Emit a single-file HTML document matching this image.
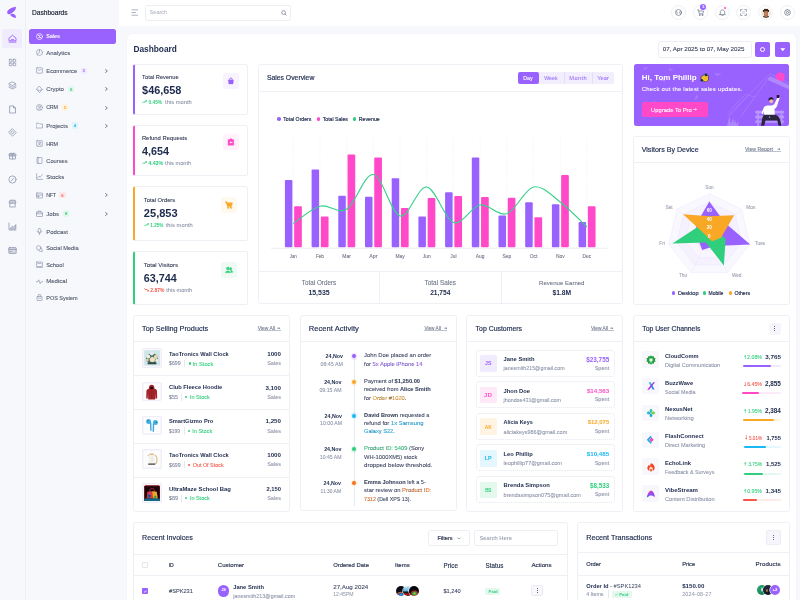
<!DOCTYPE html>
<html><head><meta charset="utf-8"><title>Dashboard</title><style>
*{box-sizing:border-box;margin:0;padding:0}
html,body{width:800px;height:600px;overflow:hidden}
body{background:#f7f8fc;font-family:"Liberation Sans",sans-serif;color:#1d2a4d;position:relative}
.a{position:absolute}
.t{position:absolute;white-space:nowrap;line-height:1;filter:grayscale(0)}
.card{position:absolute;background:#fff;border:0.6px solid #edf0f6;border-radius:3px}
.b{font-weight:bold}
.g{color:#8b93a7}
.ico{position:absolute}
</style></head>
<body>
<div class="a" style="left:25px;top:0;width:0.8px;height:600px;background:#eceef3"></div><svg class="a" style="left:6px;top:6px" width="12" height="14" viewBox="0 0 12 14">
<path d="M9.9 0.7 C7 1.1 3.3 2.6 1.7 4.7 C0.8 5.9 1 7.9 2.4 8.3 C4 8.7 6.7 6.9 8.5 4.8 C9.5 3.6 10 2.3 9.9 0.7Z" fill="#9961fd"/>
<path d="M4.5 8.5 C5.5 7.4 7.6 7.5 8.9 8.8 C9.9 9.8 10.1 11.2 9.8 12 C8.2 11.9 6 10.7 4.8 9.7 C4.3 9.3 4.2 8.9 4.5 8.5Z" fill="#9961fd"/>
</svg><div class="a" style="left:2px;top:29px;width:20px;height:19px;border-radius:2.5px;background:#f1ebfe"></div><svg class="a" style="left:7.5px;top:34px" width="9" height="9" viewBox="0 0 9 9" fill="none" stroke="#9961fd" stroke-width="0.9" stroke-linejoin="round">
<path d="M1 4.2 L4.5 1.2 L8 4.2 V6.8 H1Z"/><path d="M3.2 5.6 H5.8"/><path d="M0.6 8.1 H8.4"/></svg><svg class="a" style="left:7.5px;top:58.00px" width="9" height="9" viewBox="0 0 9 9" fill="none" stroke="#8a93ab" stroke-width="0.75" stroke-linejoin="round" stroke-linecap="round"><rect x="1.3" y="1.3" width="2.6" height="2.6" rx=".4"/><rect x="5.1" y="1.3" width="2.6" height="2.6" rx=".4"/><rect x="1.3" y="5.1" width="2.6" height="2.6" rx=".4"/><rect x="5.1" y="5.1" width="2.6" height="2.6" rx=".4"/></svg><svg class="a" style="left:7.5px;top:81.25px" width="9" height="9" viewBox="0 0 9 9" fill="none" stroke="#8a93ab" stroke-width="0.75" stroke-linejoin="round" stroke-linecap="round"><path d="M4.5 1 L8 2.8 L4.5 4.6 L1 2.8Z"/><path d="M1 4.5 L4.5 6.3 L8 4.5"/><path d="M1 6.2 L4.5 8 L8 6.2"/></svg><svg class="a" style="left:7.5px;top:104.75px" width="9" height="9" viewBox="0 0 9 9" fill="none" stroke="#8a93ab" stroke-width="0.75" stroke-linejoin="round" stroke-linecap="round"><path d="M2 1 H5.5 L7.5 3 V8 H2Z"/><path d="M5.5 1 V3 H7.5"/></svg><svg class="a" style="left:7.5px;top:128.00px" width="9" height="9" viewBox="0 0 9 9" fill="none" stroke="#8a93ab" stroke-width="0.75" stroke-linejoin="round" stroke-linecap="round"><path d="M4.5 0.8 L8.2 4.5 L4.5 8.2 L0.8 4.5Z"/><path d="M4.5 3 L6 4.5 L4.5 6 L3 4.5Z"/></svg><svg class="a" style="left:7.5px;top:151.25px" width="9" height="9" viewBox="0 0 9 9" fill="none" stroke="#8a93ab" stroke-width="0.75" stroke-linejoin="round" stroke-linecap="round"><rect x="1" y="3" width="7" height="2" rx=".4" fill="#8a93ab" fill-opacity=".4"/><path d="M1.6 5 V8 H7.4 V5"/><path d="M4.5 3 V8"/><path d="M4.5 3 C3 1 1.8 2 3 3 M4.5 3 C6 1 7.2 2 6 3"/></svg><svg class="a" style="left:7.5px;top:175.00px" width="9" height="9" viewBox="0 0 9 9" fill="none" stroke="#8a93ab" stroke-width="0.75" stroke-linejoin="round" stroke-linecap="round"><circle cx="4.5" cy="4.5" r="3.6"/><path d="M6 3 L3 6"/></svg><svg class="a" style="left:7.5px;top:198.50px" width="9" height="9" viewBox="0 0 9 9" fill="none" stroke="#8a93ab" stroke-width="0.75" stroke-linejoin="round" stroke-linecap="round"><path d="M1.2 3.2 L2 1.2 H7 L7.8 3.2 V4 C7 4.8 6 4.8 5.2 4 C4.5 4.8 3.5 4.8 2.8 4 C2 4.8 1.5 4.5 1.2 4Z" fill="#8a93ab" fill-opacity=".45"/><path d="M1.8 4.6 V8 H7.2 V4.6"/></svg><svg class="a" style="left:7.5px;top:222.25px" width="9" height="9" viewBox="0 0 9 9" fill="none" stroke="#8a93ab" stroke-width="0.75" stroke-linejoin="round" stroke-linecap="round"><path d="M1 1 V8 H8"/><path d="M2.5 6.2 L4.3 4.2 L5.6 5.3 L7.8 2.6 V7 H2.5Z" fill="#8a93ab" fill-opacity=".35"/></svg><svg class="a" style="left:7.5px;top:245.50px" width="9" height="9" viewBox="0 0 9 9" fill="none" stroke="#8a93ab" stroke-width="0.75" stroke-linejoin="round" stroke-linecap="round"><rect x="0.8" y="1.6" width="7.4" height="5.8" rx=".6" fill="#8a93ab" fill-opacity=".3"/><path d="M0.8 3.4 H8.2"/><path d="M2.2 5.6 H3.8"/></svg><div class="t" style="left:32.00px;top:9.500px;font-size:6.6px;color:#202334;-webkit-text-stroke:0.17px #202334;">Dashboards</div><div class="a" style="left:28.7px;top:28.7px;width:87.3px;height:15px;border-radius:2.5px;background:#9961fd"></div><svg class="a" style="left:35.8px;top:32.75px" width="7" height="7" viewBox="0 0 7 7" fill="none" stroke="#ffffff" stroke-width="0.65" stroke-linejoin="round" stroke-linecap="round"><circle cx="3.5" cy="3.5" r="3"/><path d="M1.4 1.4 L5.6 5.6"/><path d="M4.5 2.3 C3.8 1.9 2.8 2.2 2.9 2.9 C3 3.6 4.3 3.4 4.4 4.1 C4.5 4.8 3.4 5 2.6 4.6"/></svg><div class="t" style="left:46.25px;top:33.500px;font-size:5.4px;color:#ffffff;font-weight:bold;letter-spacing:-0.116px;">Sales</div><svg class="a" style="left:35.8px;top:49.25px" width="7" height="7" viewBox="0 0 7 7" fill="none" stroke="#8a93ab" stroke-width="0.65" stroke-linejoin="round" stroke-linecap="round"><circle cx="3.5" cy="3.5" r="3"/><path d="M3.5 0.5 V3.5 L1.2 5.3"/></svg><div class="t" style="left:46.25px;top:49.500px;font-size:6.016px;color:#485165;-webkit-text-stroke:0.08px #485165;">Analytics</div><svg class="a" style="left:35.8px;top:67.25px" width="7" height="7" viewBox="0 0 7 7" fill="none" stroke="#8a93ab" stroke-width="0.65" stroke-linejoin="round" stroke-linecap="round"><rect x="0.6" y="0.8" width="5.8" height="5.4" rx=".5"/><path d="M2.2 2.6 C2.4 3.8 4.6 3.8 4.8 2.6"/></svg><div class="t" style="left:46.25px;top:68.500px;font-size:5.822px;color:#485165;-webkit-text-stroke:0.08px #485165;">Ecommerce</div><div class="a" style="left:80.5px;top:67.55px;width:6.4px;height:6.4px;border-radius:1.2px;background:#f1ebfe"></div><div class="t" style="left:83.70px;transform:translateX(-50%);top:68.500px;font-size:4.3px;color:#9961fd;font-weight:bold;">3</div><svg class="a" style="left:104.5px;top:68.85px" width="3" height="4" viewBox="0 0 3 4" fill="none" stroke="#4a5266" stroke-width="0.75" stroke-linecap="round" stroke-linejoin="round"><path d="M0.6 0.5 L2.3 2 L0.6 3.5"/></svg><svg class="a" style="left:35.8px;top:85.75px" width="7" height="7" viewBox="0 0 7 7" fill="none" stroke="#8a93ab" stroke-width="0.65" stroke-linejoin="round" stroke-linecap="round"><path d="M3.5 0.3 L6.2 3.5 L3.5 6.7 L0.8 3.5Z"/><path d="M0.8 3.5 L3.5 4.6 L6.2 3.5"/></svg><div class="t" style="left:46.25px;top:85.500px;font-size:6.0px;color:#485165;-webkit-text-stroke:0.08px #485165;">Crypto</div><div class="a" style="left:68px;top:86.05px;width:6.4px;height:6.4px;border-radius:1.2px;background:#e3f8ec"></div><div class="t" style="left:71.20px;transform:translateX(-50%);top:87.500px;font-size:4.3px;color:#2fcf7d;font-weight:bold;">6</div><svg class="a" style="left:104.5px;top:87.35px" width="3" height="4" viewBox="0 0 3 4" fill="none" stroke="#4a5266" stroke-width="0.75" stroke-linecap="round" stroke-linejoin="round"><path d="M0.6 0.5 L2.3 2 L0.6 3.5"/></svg><svg class="a" style="left:35.8px;top:104.00px" width="7" height="7" viewBox="0 0 7 7" fill="none" stroke="#8a93ab" stroke-width="0.65" stroke-linejoin="round" stroke-linecap="round"><circle cx="3.5" cy="3.5" r="3"/><circle cx="3.5" cy="2.8" r="1"/><path d="M1.8 5.6 C2.4 4.3 4.6 4.3 5.2 5.6"/></svg><div class="t" style="left:46.25px;top:104.500px;font-size:5.4px;color:#485165;-webkit-text-stroke:0.08px #485165;letter-spacing:-0.300px;">CRM</div><div class="a" style="left:62px;top:104.30px;width:6.4px;height:6.4px;border-radius:1.2px;background:#fff3df"></div><div class="t" style="left:65.20px;transform:translateX(-50%);top:105.500px;font-size:4.3px;color:#f9a825;font-weight:bold;">5</div><svg class="a" style="left:104.5px;top:105.60px" width="3" height="4" viewBox="0 0 3 4" fill="none" stroke="#4a5266" stroke-width="0.75" stroke-linecap="round" stroke-linejoin="round"><path d="M0.6 0.5 L2.3 2 L0.6 3.5"/></svg><svg class="a" style="left:35.8px;top:122.00px" width="7" height="7" viewBox="0 0 7 7" fill="none" stroke="#8a93ab" stroke-width="0.65" stroke-linejoin="round" stroke-linecap="round"><path d="M0.5 1.2 H2.8 L3.6 2 H6.5 V6 H0.5Z"/></svg><div class="t" style="left:46.25px;top:122.500px;font-size:6.02px;color:#485165;-webkit-text-stroke:0.08px #485165;">Projects</div><div class="a" style="left:71.75px;top:122.30px;width:6.4px;height:6.4px;border-radius:1.2px;background:#e2f5fd"></div><div class="t" style="left:74.95px;transform:translateX(-50%);top:123.500px;font-size:4.3px;color:#1ab8f5;font-weight:bold;">4</div><svg class="a" style="left:104.5px;top:123.60px" width="3" height="4" viewBox="0 0 3 4" fill="none" stroke="#4a5266" stroke-width="0.75" stroke-linecap="round" stroke-linejoin="round"><path d="M0.6 0.5 L2.3 2 L0.6 3.5"/></svg><svg class="a" style="left:35.8px;top:140.25px" width="7" height="7" viewBox="0 0 7 7" fill="none" stroke="#8a93ab" stroke-width="0.65" stroke-linejoin="round" stroke-linecap="round"><rect x="0.7" y="0.7" width="5.6" height="5.6" rx=".4"/><circle cx="3.5" cy="2.8" r=".9"/><path d="M2 5.2 C2.5 4.2 4.5 4.2 5 5.2"/></svg><div class="t" style="left:46.25px;top:141.500px;font-size:5.4px;color:#485165;-webkit-text-stroke:0.08px #485165;letter-spacing:-0.300px;">HRM</div><svg class="a" style="left:35.8px;top:157.00px" width="7" height="7" viewBox="0 0 7 7" fill="none" stroke="#8a93ab" stroke-width="0.65" stroke-linejoin="round" stroke-linecap="round"><rect x="1" y="0.5" width="5" height="6" rx=".5"/><path d="M2.2 0.5 V6.5"/></svg><div class="t" style="left:46.25px;top:158.500px;font-size:5.759px;color:#485165;-webkit-text-stroke:0.08px #485165;">Courses</div><svg class="a" style="left:35.8px;top:173.25px" width="7" height="7" viewBox="0 0 7 7" fill="none" stroke="#8a93ab" stroke-width="0.65" stroke-linejoin="round" stroke-linecap="round"><path d="M0.6 0.6 V6.4 H6.6"/><path d="M1.6 4.8 L3 3.2 L4.2 4.2 L6.2 1.8"/></svg><div class="t" style="left:46.25px;top:173.500px;font-size:6.019px;color:#485165;-webkit-text-stroke:0.08px #485165;">Stocks</div><svg class="a" style="left:35.8px;top:191.75px" width="7" height="7" viewBox="0 0 7 7" fill="none" stroke="#8a93ab" stroke-width="0.65" stroke-linejoin="round" stroke-linecap="round"><rect x="0.5" y="1" width="6" height="5" rx=".5"/><path d="M0.5 3 H6.5"/><circle cx="2.2" cy="4.4" r=".6"/></svg><div class="t" style="left:46.25px;top:192.500px;font-size:5.4px;color:#485165;-webkit-text-stroke:0.08px #485165;letter-spacing:-0.400px;">NFT</div><div class="a" style="left:59.25px;top:192.05px;width:6.4px;height:6.4px;border-radius:1.2px;background:#fde8e8"></div><div class="t" style="left:62.45px;transform:translateX(-50%);top:193.500px;font-size:4.3px;color:#f25f5c;font-weight:bold;">6</div><svg class="a" style="left:104.5px;top:193.35px" width="3" height="4" viewBox="0 0 3 4" fill="none" stroke="#4a5266" stroke-width="0.75" stroke-linecap="round" stroke-linejoin="round"><path d="M0.6 0.5 L2.3 2 L0.6 3.5"/></svg><svg class="a" style="left:35.8px;top:210.00px" width="7" height="7" viewBox="0 0 7 7" fill="none" stroke="#8a93ab" stroke-width="0.65" stroke-linejoin="round" stroke-linecap="round"><rect x="0.5" y="2" width="6" height="4.5" rx=".5"/><path d="M2.3 2 V1 H4.7 V2"/><path d="M0.5 3.8 H6.5"/></svg><div class="t" style="left:46.25px;top:210.500px;font-size:6.057px;color:#485165;-webkit-text-stroke:0.08px #485165;">Jobs</div><div class="a" style="left:63px;top:210.30px;width:6.4px;height:6.4px;border-radius:1.2px;background:#e3f8ec"></div><div class="t" style="left:66.20px;transform:translateX(-50%);top:211.500px;font-size:4.3px;color:#2fcf7d;font-weight:bold;">8</div><svg class="a" style="left:104.5px;top:211.60px" width="3" height="4" viewBox="0 0 3 4" fill="none" stroke="#4a5266" stroke-width="0.75" stroke-linecap="round" stroke-linejoin="round"><path d="M0.6 0.5 L2.3 2 L0.6 3.5"/></svg><svg class="a" style="left:35.8px;top:228.00px" width="7" height="7" viewBox="0 0 7 7" fill="none" stroke="#8a93ab" stroke-width="0.65" stroke-linejoin="round" stroke-linecap="round"><rect x="2.3" y="0.4" width="2.4" height="4" rx="1.2"/><path d="M1.2 3.4 C1.2 5.6 5.8 5.6 5.8 3.4"/><path d="M3.5 5.2 V6.6"/></svg><div class="t" style="left:46.25px;top:228.500px;font-size:6.02px;color:#485165;-webkit-text-stroke:0.08px #485165;">Podcast</div><svg class="a" style="left:35.8px;top:244.50px" width="7" height="7" viewBox="0 0 7 7" fill="none" stroke="#8a93ab" stroke-width="0.65" stroke-linejoin="round" stroke-linecap="round"><circle cx="2.7" cy="2.8" r="2.2"/><path d="M4.3 3.2 C6 3.2 6.8 4.6 6 5.8 L6.4 6.6 L5.2 6.3 C4.3 6.8 3 6.4 2.7 5.4"/></svg><div class="t" style="left:46.25px;top:245.500px;font-size:5.665px;color:#485165;-webkit-text-stroke:0.08px #485165;">Social Media</div><svg class="a" style="left:35.8px;top:261.25px" width="7" height="7" viewBox="0 0 7 7" fill="none" stroke="#8a93ab" stroke-width="0.65" stroke-linejoin="round" stroke-linecap="round"><rect x="0.6" y="1" width="5.8" height="4.6" rx=".4"/><path d="M0.6 6.4 H6.4"/><path d="M2 2.4 H5"/></svg><div class="t" style="left:46.25px;top:262.500px;font-size:5.701px;color:#485165;-webkit-text-stroke:0.08px #485165;">School</div><svg class="a" style="left:35.8px;top:277.75px" width="7" height="7" viewBox="0 0 7 7" fill="none" stroke="#8a93ab" stroke-width="0.65" stroke-linejoin="round" stroke-linecap="round"><path d="M0.3 3.8 H1.8 L2.7 1.8 L4.2 5.6 L5.1 3.8 H6.7"/></svg><div class="t" style="left:46.25px;top:277.500px;font-size:6.021px;color:#485165;-webkit-text-stroke:0.08px #485165;">Medical</div><svg class="a" style="left:35.8px;top:294.00px" width="7" height="7" viewBox="0 0 7 7" fill="none" stroke="#8a93ab" stroke-width="0.65" stroke-linejoin="round" stroke-linecap="round"><rect x="1" y="2.5" width="5" height="4" rx=".4"/><path d="M2 2.5 L2.6 0.6 H4.4 L5 2.5"/><path d="M2.2 4.2 H4.8"/></svg><div class="t" style="left:46.25px;top:295.500px;font-size:5.494px;color:#485165;-webkit-text-stroke:0.08px #485165;">POS System</div><div class="a" style="left:119px;top:0;width:681px;height:25.5px;background:#fff"></div><svg class="a" style="left:131px;top:9px" width="7.5" height="7" viewBox="0 0 7.5 7" fill="none" stroke="#9aa1b3" stroke-width="0.8"><path d="M0.5 0.8 H7"/><path d="M0.5 3.5 H5"/><path d="M0.5 6.2 H7"/></svg><div class="a" style="left:144.5px;top:4.5px;width:146px;height:16px;border:0.6px solid #eceef4;border-radius:2.5px;background:#fff"></div><div class="t" style="left:149.60px;top:9.500px;font-size:5.579px;color:#b5bac7;-webkit-text-stroke:0.08px #b5bac7;">Search</div><svg class="a" style="left:281px;top:9.8px" width="6" height="6" viewBox="0 0 6 6" fill="none" stroke="#6f778b" stroke-width="0.7"><circle cx="2.6" cy="2.6" r="1.9"/><path d="M4 4 L5.4 5.4"/></svg><div class="a" style="left:671.10px;top:5px;width:15.2px;height:15.2px;border-radius:50%;border:0.6px solid #eef0f5;background:#fff"></div><div class="a" style="left:693.00px;top:5px;width:15.2px;height:15.2px;border-radius:50%;border:0.6px solid #eef0f5;background:#fff"></div><div class="a" style="left:714.50px;top:5px;width:15.2px;height:15.2px;border-radius:50%;border:0.6px solid #eef0f5;background:#fff"></div><div class="a" style="left:736.10px;top:5px;width:15.2px;height:15.2px;border-radius:50%;border:0.6px solid #eef0f5;background:#fff"></div><div class="a" style="left:757.90px;top:5px;width:15.2px;height:15.2px;border-radius:50%;border:0.6px solid #eef0f5;background:#fff"></div><div class="a" style="left:779.80px;top:5px;width:15.2px;height:15.2px;border-radius:50%;border:0.6px solid #eef0f5;background:#fff"></div><svg class="a" style="left:675.20px;top:9.1px" width="7" height="7" viewBox="0 0 7 7" fill="none" stroke="#6e7689" stroke-width="0.7" stroke-linejoin="round" stroke-linecap="round"><circle cx="3.5" cy="3.5" r="3"/><path d="M1 2.3 C2 2.7 2.6 3.6 2.2 4.6 M6 2.2 C5 2.2 4.2 3 4.6 4 C5 5 5.8 5 6.3 4.6"/></svg><svg class="a" style="left:697.10px;top:9.1px" width="7" height="7" viewBox="0 0 7 7" fill="none" stroke="#6e7689" stroke-width="0.7" stroke-linejoin="round" stroke-linecap="round"><path d="M0.5 0.8 H1.5 L2.3 4.8 H5.8 L6.5 2 H1.9"/><circle cx="2.6" cy="6" r=".5"/><circle cx="5.4" cy="6" r=".5"/></svg><svg class="a" style="left:718.60px;top:9.1px" width="7" height="7" viewBox="0 0 7 7" fill="none" stroke="#6e7689" stroke-width="0.7" stroke-linejoin="round" stroke-linecap="round"><path d="M1.3 5.2 V3.2 C1.3 1.8 2.3 0.9 3.5 0.9 C4.7 0.9 5.7 1.8 5.7 3.2 V5.2 L6.3 5.6 H0.7Z"/><path d="M2.8 6.3 H4.2"/></svg><svg class="a" style="left:740.20px;top:9.1px" width="7" height="7" viewBox="0 0 7 7" fill="none" stroke="#6e7689" stroke-width="0.7" stroke-linejoin="round" stroke-linecap="round"><path d="M0.6 2.2 V0.6 H2.2 M4.8 0.6 H6.4 V2.2 M6.4 4.8 V6.4 H4.8 M2.2 6.4 H0.6 V4.8"/><rect x="2" y="2" width="3" height="3" rx=".3" fill="#dfe2ea" stroke="none"/></svg><div class="a" style="left:760.50px;top:7.6px;width:10px;height:10px;border-radius:50%;background:radial-gradient(ellipse 30% 36% at 50% 58%,#c48a66 0,#a8704f 80%,transparent 84%),radial-gradient(ellipse 36% 30% at 50% 30%,#3a2a22 0,#3a2a22 80%,transparent 84%),radial-gradient(ellipse 50% 40% at 50% 100%,#6a5040 0,#6a5040 70%,transparent 74%),#efe6da"></div><svg class="a" style="left:783.90px;top:9.1px" width="7" height="7" viewBox="0 0 7 7" fill="none" stroke="#6e7689" stroke-width="0.7" stroke-linejoin="round" stroke-linecap="round"><circle cx="3.5" cy="3.5" r="1.1"/><path d="M3.5 0.4 L4.2 1.2 L5.3 1 L5.5 2.1 L6.5 2.6 L6.1 3.5 L6.5 4.4 L5.5 4.9 L5.3 6 L4.2 5.8 L3.5 6.6 L2.8 5.8 L1.7 6 L1.5 4.9 L0.5 4.4 L0.9 3.5 L0.5 2.6 L1.5 2.1 L1.7 1 L2.8 1.2Z"/></svg><div class="a" style="left:700px;top:4.1px;width:6.4px;height:6.4px;border-radius:50%;background:#9961fd;color:#fff;font-size:3.8px;line-height:6.4px;text-align:center;font-weight:bold">5</div><div class="a" style="left:723.6px;top:7.3px;width:2px;height:2px;border-radius:50%;background:#ff49c9"></div><div class="a" style="left:126.5px;top:34px;width:669.5px;height:580px;background:#fff;border-radius:5px;box-shadow:0 0 0 0.5px #f0f1f6"></div><div class="t" style="left:133.50px;top:44.500px;font-size:8.3px;color:#1d2a4d;font-weight:bold;">Dashboard</div><div class="a" style="left:657.9px;top:40.6px;width:93.7px;height:17px;border:0.6px solid #eceef4;border-radius:2.5px;background:#fff"></div><div class="t" style="left:662.75px;top:45.500px;font-size:6.232px;color:#2b3550;-webkit-text-stroke:0.08px #2b3550;">07, Apr 2025 to 07, May 2025</div><div class="a" style="left:755.4px;top:42px;width:14.6px;height:15px;border-radius:2px;background:#9961fd"></div><div class="a" style="left:775px;top:42px;width:14.5px;height:15px;border-radius:2px;background:#9961fd"></div><div class="a" style="left:760.3px;top:47.1px;width:4.8px;height:4.8px;border-radius:50%;border:1px solid #fff"></div><svg class="a" style="left:779.5px;top:47.5px" width="5.5" height="4" viewBox="0 0 5.5 4"><path d="M0.3 0.3 H5.2 L2.75 3.3Z" fill="#fff"/></svg><div class="a" style="left:133px;top:64px;width:115px;height:51px;background:#fff;border:1px solid #eff0f5;border-left:2px solid #9961fd;border-radius:2.5px"></div><div class="t" style="left:142.10px;top:74.500px;font-size:5.731px;color:#2b3550;-webkit-text-stroke:0.08px #2b3550;">Total Revenue</div><div class="t" style="left:142.10px;top:84.500px;font-size:10.881px;color:#1d2a4d;font-weight:bold;">$46,658</div><svg class="a" style="left:142.00px;top:100.20px" width="5" height="3.6" viewBox="0 0 5 3.6"><path d="M0.3 3.2 L1.9 1.6 L2.8 2.4 L4.4 0.6" fill="none" stroke="#2fcf7d" stroke-width=".9"/><path d="M3.1 0.2 H4.8 V1.9Z" fill="#2fcf7d"/></svg><div class="t" style="left:148.60px;top:100.500px;font-size:4.719px;color:#2fcf7d;font-weight:bold;">0.45%</div><div class="t" style="left:165.00px;top:99.500px;font-size:5.72px;color:#8b93a7;-webkit-text-stroke:0.08px #8b93a7;letter-spacing:0.047px;">this month</div><div class="a" style="left:222.7px;top:73px;width:16.4px;height:16.2px;border-radius:2.5px;background:#f7f3ff"></div><svg class="a" style="left:227.00px;top:77.10px" width="7.8" height="7.8" viewBox="0 0 7 7" fill="#9961fd" stroke="#9961fd" stroke-width=".3"><path d="M1.2 2.6 H5.8 L5.4 6.2 H1.6Z" /><path d="M2.4 2.6 V1.8 C2.4 0.6 4.6 0.6 4.6 1.8 V2.6" fill="none" stroke-width="0.8"/></svg><div class="a" style="left:133px;top:125px;width:115px;height:51px;background:#fff;border:1px solid #eff0f5;border-left:2px solid #ff49c9;border-radius:2.5px"></div><div class="t" style="left:141.90px;top:135.500px;font-size:5.876px;color:#2b3550;-webkit-text-stroke:0.08px #2b3550;">Refund Requests</div><div class="t" style="left:141.90px;top:145.500px;font-size:10.807px;color:#1d2a4d;font-weight:bold;">4,654</div><svg class="a" style="left:142.00px;top:161.20px" width="5" height="3.6" viewBox="0 0 5 3.6"><path d="M0.3 3.2 L1.9 1.6 L2.8 2.4 L4.4 0.6" fill="none" stroke="#2fcf7d" stroke-width=".9"/><path d="M3.1 0.2 H4.8 V1.9Z" fill="#2fcf7d"/></svg><div class="t" style="left:148.20px;top:160.500px;font-size:5.347px;color:#2fcf7d;font-weight:bold;">4.43%</div><div class="t" style="left:165.10px;top:160.500px;font-size:5.659px;color:#8b93a7;-webkit-text-stroke:0.08px #8b93a7;">this month</div><div class="a" style="left:222.5px;top:134.1px;width:16.4px;height:16.2px;border-radius:2.5px;background:#fff2fb"></div><svg class="a" style="left:226.80px;top:138.20px" width="7.8" height="7.8" viewBox="0 0 7 7" fill="#ff49c9" stroke="#ff49c9" stroke-width=".3"><rect x="0.9" y="1.4" width="5.2" height="5.2" rx=".6"/><rect x="2.6" y="0.6" width="1.8" height="1.2" rx=".3"/><path d="M2.3 4 L3.6 3 V3.6 H4.8 V4.4 H3.6 V5Z" fill="#fff" stroke="none"/></svg><div class="a" style="left:133px;top:186px;width:115px;height:55px;background:#fff;border:1px solid #eff0f5;border-left:2px solid #f9a825;border-radius:2.5px"></div><div class="t" style="left:143.85px;top:197.500px;font-size:5.754px;color:#2b3550;-webkit-text-stroke:0.08px #2b3550;">Total Orders</div><div class="t" style="left:143.85px;top:207.500px;font-size:11.069px;color:#1d2a4d;font-weight:bold;">25,853</div><svg class="a" style="left:144.00px;top:223.40px" width="5" height="3.6" viewBox="0 0 5 3.6"><path d="M0.3 3.2 L1.9 1.6 L2.8 2.4 L4.4 0.6" fill="none" stroke="#2fcf7d" stroke-width=".9"/><path d="M3.1 0.2 H4.8 V1.9Z" fill="#2fcf7d"/></svg><div class="t" style="left:150.35px;top:223.500px;font-size:4.68px;color:#2fcf7d;font-weight:bold;letter-spacing:-0.048px;">1.25%</div><div class="t" style="left:165.70px;top:222.500px;font-size:5.72px;color:#8b93a7;-webkit-text-stroke:0.08px #8b93a7;letter-spacing:0.078px;">this month</div><div class="a" style="left:221px;top:196.9px;width:16.4px;height:16.2px;border-radius:2.5px;background:#fff8ee"></div><svg class="a" style="left:225.30px;top:201.00px" width="7.8" height="7.8" viewBox="0 0 7 7" fill="#f9a825" stroke="#f9a825" stroke-width=".3"><path d="M0.3 0.6 H1.6 L1.9 1.6 H6.7 L5.9 4.6 H2.5Z" stroke-width=".4"/><path d="M1.6 1.2 L2.4 4.8 H6" fill="none" stroke-width=".8"/><circle cx="2.8" cy="6" r=".75"/><circle cx="5.4" cy="6" r=".75"/></svg><div class="a" style="left:133px;top:251px;width:115px;height:54px;background:#fff;border:1px solid #eff0f5;border-left:2px solid #2fcf7d;border-radius:2.5px"></div><div class="t" style="left:143.85px;top:261.500px;font-size:6.06px;color:#2b3550;-webkit-text-stroke:0.08px #2b3550;">Total Visitors</div><div class="t" style="left:143.85px;top:272.500px;font-size:10.774px;color:#1d2a4d;font-weight:bold;">63,744</div><svg class="a" style="left:144.00px;top:288.40px" width="5" height="3.6" viewBox="0 0 5 3.6"><path d="M0.3 0.4 L1.9 2 L2.8 1.2 L4.4 3" fill="none" stroke="#f5554a" stroke-width=".9"/><path d="M3.1 3.4 H4.8 V1.7Z" fill="#f5554a"/></svg><div class="t" style="left:150.35px;top:288.500px;font-size:4.926px;color:#f5554a;font-weight:bold;">2.87%</div><div class="t" style="left:166.20px;top:287.500px;font-size:5.659px;color:#8b93a7;-webkit-text-stroke:0.08px #8b93a7;">this month</div><div class="a" style="left:221px;top:261.7px;width:16.4px;height:16.2px;border-radius:2.5px;background:#eefaf3"></div><svg class="a" style="left:225.30px;top:265.80px" width="7.8" height="7.8" viewBox="0 0 7 7" fill="#2fcf7d" stroke="#2fcf7d" stroke-width=".3"><circle cx="2.6" cy="2.3" r="1.3"/><path d="M0.3 6 C0.3 3.9 4.9 3.9 4.9 6Z"/><circle cx="5.1" cy="2.5" r="1.05"/><path d="M5.2 3.9 C6.2 3.9 6.9 4.6 6.9 5.8 H5.4 C5.4 5 5.2 4.4 4.8 4Z"/></svg><div class="a" style="left:258px;top:64px;width:365px;height:240px;background:#fff;border:1px solid #eff0f5;border-radius:2.5px"></div><div class="a" style="left:258px;top:91px;width:365px;height:1px;background:#eff0f5"></div><div class="t" style="left:266.90px;top:74.500px;font-size:6.846px;color:#1d2a4d;-webkit-text-stroke:0.17px #1d2a4d;">Sales Overview</div><div class="a" style="left:517.5px;top:72px;width:96.5px;height:12px;border-radius:2px;background:#f3eefe"></div><div class="a" style="left:517.5px;top:72px;width:21.5px;height:12px;border-radius:2px;background:#9961fd"></div><div class="a" style="left:563.5px;top:72px;width:0.5px;height:12px;background:#e6dcfd"></div><div class="a" style="left:591.75px;top:72px;width:0.5px;height:12px;background:#e6dcfd"></div><div class="t" style="left:523.20px;top:75.500px;font-size:5.296px;color:#fff;-webkit-text-stroke:0.08px #fff;">Day</div><div class="t" style="left:544.20px;top:75.500px;font-size:5.266px;color:#9a73f7;-webkit-text-stroke:0.08px #9a73f7;">Week</div><div class="t" style="left:569.25px;top:75.500px;font-size:5.72px;color:#9a73f7;-webkit-text-stroke:0.08px #9a73f7;letter-spacing:0.375px;">Month</div><div class="t" style="left:597.30px;top:75.500px;font-size:5.72px;color:#9a73f7;-webkit-text-stroke:0.08px #9a73f7;letter-spacing:0.033px;">Year</div><div class="a" style="left:277.25px;top:117.00px;width:3.5px;height:3.5px;border-radius:50%;background:#9961fd"></div><div class="t" style="left:283.30px;top:116.500px;font-size:5.16px;color:#1d2a4d;-webkit-text-stroke:0.17px #1d2a4d;">Total Orders</div><div class="a" style="left:316.65px;top:117.00px;width:3.5px;height:3.5px;border-radius:50%;background:#ff49c9"></div><div class="t" style="left:322.70px;top:116.500px;font-size:5.169px;color:#1d2a4d;-webkit-text-stroke:0.17px #1d2a4d;">Total Sales</div><div class="a" style="left:352.85px;top:117.00px;width:3.5px;height:3.5px;border-radius:50%;background:#2fcf7d"></div><div class="t" style="left:358.70px;top:116.500px;font-size:5.288px;color:#1d2a4d;-webkit-text-stroke:0.17px #1d2a4d;">Revenue</div><svg class="a" style="left:0;top:0" width="800" height="600" viewBox="0 0 800 600"><line x1="293.25" y1="135.5" x2="293.25" y2="247.2" stroke="#e9ebf1" stroke-width="0.5" stroke-dasharray="1 1.2"/><line x1="319.95" y1="135.5" x2="319.95" y2="247.2" stroke="#e9ebf1" stroke-width="0.5" stroke-dasharray="1 1.2"/><line x1="346.65" y1="135.5" x2="346.65" y2="247.2" stroke="#e9ebf1" stroke-width="0.5" stroke-dasharray="1 1.2"/><line x1="373.35" y1="135.5" x2="373.35" y2="247.2" stroke="#e9ebf1" stroke-width="0.5" stroke-dasharray="1 1.2"/><line x1="400.05" y1="135.5" x2="400.05" y2="247.2" stroke="#e9ebf1" stroke-width="0.5" stroke-dasharray="1 1.2"/><line x1="426.75" y1="135.5" x2="426.75" y2="247.2" stroke="#e9ebf1" stroke-width="0.5" stroke-dasharray="1 1.2"/><line x1="453.45" y1="135.5" x2="453.45" y2="247.2" stroke="#e9ebf1" stroke-width="0.5" stroke-dasharray="1 1.2"/><line x1="480.15" y1="135.5" x2="480.15" y2="247.2" stroke="#e9ebf1" stroke-width="0.5" stroke-dasharray="1 1.2"/><line x1="506.85" y1="135.5" x2="506.85" y2="247.2" stroke="#e9ebf1" stroke-width="0.5" stroke-dasharray="1 1.2"/><line x1="533.55" y1="135.5" x2="533.55" y2="247.2" stroke="#e9ebf1" stroke-width="0.5" stroke-dasharray="1 1.2"/><line x1="560.25" y1="135.5" x2="560.25" y2="247.2" stroke="#e9ebf1" stroke-width="0.5" stroke-dasharray="1 1.2"/><line x1="586.95" y1="135.5" x2="586.95" y2="247.2" stroke="#e9ebf1" stroke-width="0.5" stroke-dasharray="1 1.2"/><line x1="271" y1="135" x2="276" y2="135" stroke="#eef0f4" stroke-width="0.4" stroke-dasharray="0.8 1"/><line x1="271" y1="154" x2="276" y2="154" stroke="#eef0f4" stroke-width="0.4" stroke-dasharray="0.8 1"/><line x1="271" y1="172.5" x2="276" y2="172.5" stroke="#eef0f4" stroke-width="0.4" stroke-dasharray="0.8 1"/><line x1="271" y1="191" x2="276" y2="191" stroke="#eef0f4" stroke-width="0.4" stroke-dasharray="0.8 1"/><line x1="271" y1="210" x2="276" y2="210" stroke="#eef0f4" stroke-width="0.4" stroke-dasharray="0.8 1"/><line x1="271" y1="229" x2="276" y2="229" stroke="#eef0f4" stroke-width="0.4" stroke-dasharray="0.8 1"/><line x1="271" y1="248.29999999999998" x2="607.5" y2="248.29999999999998" stroke="#e9ebf0" stroke-width="0.8"/><rect x="284.90" y="180" width="7.5" height="67.20" rx="0.9" fill="#9961fd"/><rect x="294.15" y="206.25" width="7.7" height="40.95" rx="0.9" fill="#ff49c9"/><rect x="311.60" y="169.5" width="7.5" height="77.70" rx="0.9" fill="#9961fd"/><rect x="320.85" y="216.5" width="7.7" height="30.70" rx="0.9" fill="#ff49c9"/><rect x="338.30" y="195.75" width="7.5" height="51.45" rx="0.9" fill="#9961fd"/><rect x="347.55" y="154.5" width="7.7" height="92.70" rx="0.9" fill="#ff49c9"/><rect x="365.00" y="196.75" width="7.5" height="50.45" rx="0.9" fill="#9961fd"/><rect x="374.25" y="157.5" width="7.7" height="89.70" rx="0.9" fill="#ff49c9"/><rect x="391.70" y="178.25" width="7.5" height="68.95" rx="0.9" fill="#9961fd"/><rect x="400.95" y="208" width="7.7" height="39.20" rx="0.9" fill="#ff49c9"/><rect x="418.40" y="216.5" width="7.5" height="30.70" rx="0.9" fill="#9961fd"/><rect x="427.65" y="198" width="7.7" height="49.20" rx="0.9" fill="#ff49c9"/><rect x="445.10" y="192.25" width="7.5" height="54.95" rx="0.9" fill="#9961fd"/><rect x="454.35" y="196" width="7.7" height="51.20" rx="0.9" fill="#ff49c9"/><rect x="471.80" y="157.5" width="7.5" height="89.70" rx="0.9" fill="#9961fd"/><rect x="481.05" y="197" width="7.7" height="50.20" rx="0.9" fill="#ff49c9"/><rect x="498.50" y="215.5" width="7.5" height="31.70" rx="0.9" fill="#9961fd"/><rect x="507.75" y="197.75" width="7.7" height="49.45" rx="0.9" fill="#ff49c9"/><rect x="525.20" y="202.25" width="7.5" height="44.95" rx="0.9" fill="#9961fd"/><rect x="534.45" y="217.25" width="7.7" height="29.95" rx="0.9" fill="#ff49c9"/><rect x="551.90" y="204.25" width="7.5" height="42.95" rx="0.9" fill="#9961fd"/><rect x="561.15" y="175" width="7.7" height="72.20" rx="0.9" fill="#ff49c9"/><rect x="578.60" y="222" width="7.5" height="25.20" rx="0.9" fill="#9961fd"/><rect x="587.85" y="206.25" width="7.7" height="40.95" rx="0.9" fill="#ff49c9"/><path d="M293.25,223.50 C297.70,220.62 311.05,208.58 319.95,206.20 C328.85,203.82 337.75,214.48 346.65,209.20 C355.55,203.92 364.45,173.37 373.35,174.50 C382.25,175.63 391.15,213.92 400.05,216.00 C408.95,218.08 417.85,185.92 426.75,187.00 C435.65,188.08 444.55,219.50 453.45,222.50 C462.35,225.50 471.25,206.46 480.15,205.00 C489.05,203.54 497.95,216.75 506.85,213.75 C515.75,210.75 524.65,188.96 533.55,187.00 C542.45,185.04 551.35,195.33 560.25,202.00 C569.15,208.67 582.50,222.83 586.95,227.00" fill="none" stroke="#36d28a" stroke-width="1.15"/></svg><div class="t" style="left:293.25px;transform:translateX(-50%);top:254.500px;font-size:4.41px;color:#6b7385;-webkit-text-stroke:0.08px #6b7385;letter-spacing:-0.006px;">Jan</div><div class="t" style="left:319.95px;transform:translateX(-50%);top:254.500px;font-size:4.714px;color:#6b7385;-webkit-text-stroke:0.08px #6b7385;">Feb</div><div class="t" style="left:346.65px;transform:translateX(-50%);top:253.500px;font-size:5.0px;color:#6b7385;-webkit-text-stroke:0.08px #6b7385;">Mar</div><div class="t" style="left:373.35px;transform:translateX(-50%);top:253.500px;font-size:5.273px;color:#6b7385;-webkit-text-stroke:0.08px #6b7385;">Apr</div><div class="t" style="left:400.05px;transform:translateX(-50%);top:254.500px;font-size:4.9px;color:#6b7385;-webkit-text-stroke:0.08px #6b7385;">May</div><div class="t" style="left:426.75px;transform:translateX(-50%);top:254.500px;font-size:4.9px;color:#6b7385;-webkit-text-stroke:0.08px #6b7385;">Jun</div><div class="t" style="left:453.45px;transform:translateX(-50%);top:254.500px;font-size:4.9px;color:#6b7385;-webkit-text-stroke:0.08px #6b7385;">Jul</div><div class="t" style="left:480.15px;transform:translateX(-50%);top:254.500px;font-size:4.9px;color:#6b7385;-webkit-text-stroke:0.08px #6b7385;">Aug</div><div class="t" style="left:506.85px;transform:translateX(-50%);top:254.500px;font-size:4.9px;color:#6b7385;-webkit-text-stroke:0.08px #6b7385;">Sep</div><div class="t" style="left:533.55px;transform:translateX(-50%);top:254.500px;font-size:4.9px;color:#6b7385;-webkit-text-stroke:0.08px #6b7385;">Oct</div><div class="t" style="left:560.25px;transform:translateX(-50%);top:254.500px;font-size:4.9px;color:#6b7385;-webkit-text-stroke:0.08px #6b7385;">Nov</div><div class="t" style="left:586.95px;transform:translateX(-50%);top:254.500px;font-size:4.9px;color:#6b7385;-webkit-text-stroke:0.08px #6b7385;">Dec</div><div class="a" style="left:258px;top:271px;width:365px;height:1px;background:#eff0f5"></div><div class="a" style="left:379px;top:271px;width:1px;height:32px;background:#eff0f5"></div><div class="a" style="left:500.5px;top:271px;width:1px;height:32px;background:#eff0f5"></div><div class="t" style="left:319.00px;transform:translateX(-50%);top:279.500px;font-size:6.307px;color:#6b7385;-webkit-text-stroke:0.08px #6b7385;">Total Orders</div><div class="t" style="left:319.00px;transform:translateX(-50%);top:289.500px;font-size:6.93px;color:#1d2a4d;font-weight:bold;">15,535</div><div class="t" style="left:440.25px;transform:translateX(-50%);top:279.500px;font-size:6.427px;color:#6b7385;-webkit-text-stroke:0.08px #6b7385;">Total Sales</div><div class="t" style="left:440.25px;transform:translateX(-50%);top:289.500px;font-size:6.6px;color:#1d2a4d;font-weight:bold;">21,754</div><div class="t" style="left:561.80px;transform:translateX(-50%);top:279.500px;font-size:6.059px;color:#6b7385;-webkit-text-stroke:0.08px #6b7385;">Revenue Earned</div><div class="t" style="left:561.80px;transform:translateX(-50%);top:289.500px;font-size:6.703px;color:#1d2a4d;font-weight:bold;">$1.8M</div><div class="a" style="left:633.8px;top:64.3px;width:155.4px;height:61.3px;border-radius:2.5px;background:#9961fd;overflow:hidden"><svg width="156" height="62" viewBox="0 0 156 62" style="position:absolute;left:0;top:0"><g opacity=".35" fill="#c4a8ff"><path d="M8 4 l6 -1 l-2 3z"/><path d="M24 16 l8 -3 l-1 5z" fill="#e8a0ff"/><path d="M60 36 l3 -6 l1 4z"/><path d="M12 40 l10 -3 l-3 4z"/><path d="M80 9 l8 1 l-5 2z"/><path d="M35 4 l5 2 l-5 1z"/></g><path d="M93.6 52 L134.6 11 C135.4 10.2 136.4 10 137.4 10.5 L156 19.6" fill="none" stroke="#ae8bff" stroke-width=".6"/><circle cx="146.3" cy="13.1" r="4.6" fill="#ff49c9"/><path d="M133.2 15.6 L135.2 13 C135.8 12.4 136.6 12.3 137.4 12.7 L156 21.6 L156 26 L136.6 17.2 C135.4 16.7 134.2 16.6 133.2 15.6Z" fill="#ad88ff"/><path d="M107.3 51.7 L133.4 15.8" fill="none" stroke="#ae8bff" stroke-width=".6"/><path d="M93.7 48.7 L110.8 31 C111.4 30.4 112 30.3 112.8 30.5 L121 33.3" fill="none" stroke="#ab87ff" stroke-width=".55"/><path d="M96.5 51.5 L111.4 34" fill="none" stroke="#ab87ff" stroke-width=".5"/><g fill="#b493ff" opacity=".8"><path d="M93 62 L95.5 52 L97 62Z"/><path d="M96 62 L99.5 54 L99.8 62Z"/><path d="M99 62 L101 55.5 L102.5 62Z"/><path d="M101 62 L104.5 57 L104 62Z"/></g><g fill="#b898ff"><rect x="121.2" y="46.7" width="29" height="2.8" rx=".8"/><rect x="121.2" y="51.6" width="29" height="2.8" rx=".8"/><rect x="121.2" y="56.4" width="29" height="2.4" rx=".8"/><rect x="123.3" y="46.7" width="1.6" height="15.3"/><rect x="146.7" y="46.7" width="1.6" height="15.3"/></g><path d="M129.6 44 C130 42.3 131.7 41.5 133.6 41.4 H137.6 C139 41.4 140 40.6 140.7 39.2 L143.7 32.9 L145.8 33.6 L143.2 41.4 C142.6 43.2 141.7 44.3 140.5 44.8 L140.8 51 H130.2 L129.8 47 L128.8 50 L127.4 49.6 Z" fill="#fff"/><path d="M130.2 50.8 H140.8 C143.4 51.2 145.2 53 146 55.5 L147.6 61.7 H144.6 L143.3 56.6 H131.5 L130.2 61.7 H127.1 L128 55.5 C128.5 53 129.1 51.5 130.2 50.8Z" fill="#2b2540"/><circle cx="135.6" cy="53" r=".6" fill="#fff"/><ellipse cx="137.2" cy="37.1" rx="2" ry="2.2" fill="#f2b9a0"/><path d="M134.5 36.6 C134.1 34 136 32.9 137.7 33.2 C139.3 33.5 139.8 34.8 139.3 36 C138.5 35.2 137.1 35.1 136.1 35.7 C135.5 36.1 135.2 36.8 134.5 36.6Z" fill="#1f1a2c"/><rect x="142.7" y="30.9" width="2.6" height="3.2" rx=".5" fill="#1f1a2c"/></svg></div><div class="t" style="left:641.70px;top:73.500px;font-size:8.006px;color:#fff;font-weight:bold;">Hi, Tom Phillip</div><svg class="a" style="left:699.6px;top:72.8px" width="9" height="9.6" viewBox="0 0 9 9.6"><path d="M1.2 3.6 L4.6 1.6 L8.4 2.8 L8.5 7 L6 9.1 L3.2 8 L1 6.2Z" fill="#f7c533" stroke="#24203a" stroke-width=".6" stroke-linejoin="round"/><path d="M3.2 4 L5.6 7 M4.4 3 L6.8 6" stroke="#d89b14" stroke-width=".45"/><circle cx="6" cy="1.9" r="1.35" fill="#0e3b3a"/><circle cx="1.8" cy="7.3" r="1.25" fill="#0e3b3a"/></svg><div class="t" style="left:641.70px;top:86.500px;font-size:5.94px;color:#ffffff;-webkit-text-stroke:0.08px #ffffff;letter-spacing:0.242px;">Check out the latest sales updates.</div><div class="a" style="left:642px;top:101.7px;width:65.8px;height:15.5px;border-radius:2px;background:#ff49c9"></div><div class="t" style="left:651.10px;top:107.500px;font-size:5.829px;color:#fff;-webkit-text-stroke:0.08px #fff;">Upgrade To Pro</div><svg class="a" style="left:693.3px;top:108.1px" width="4" height="2.8" viewBox="0 0 4 2.8"><path d="M0 1.4 H3.2" stroke="#fff" stroke-width=".6"/><path d="M2.2 0.2 L4 1.4 L2.2 2.6Z" fill="#fff"/></svg><div class="a" style="left:633px;top:136px;width:157.00px;height:169.00px;background:#fff;border:1px solid #eff0f5;border-radius:2.5px"></div><div class="a" style="left:633px;top:162px;width:157.00px;height:1px;background:#eff0f5"></div><div class="t" style="left:641.70px;top:146.500px;font-size:7.092px;color:#1d2a4d;-webkit-text-stroke:0.17px #1d2a4d;">Visitors By Device</div><div class="t" style="left:745.00px;top:146.500px;font-size:5.131px;color:#6a7387;-webkit-text-stroke:0.08px #6a7387;">View Report</div><svg class="a" style="left:776.6px;top:148.1px" width="3.6" height="2.4" viewBox="0 0 3.6 2.4"><path d="M0 1.2 H2.6" stroke="#6a7387" stroke-width=".5"/><path d="M1.9 0.2 L3.6 1.2 L1.9 2.2Z" fill="#6a7387"/></svg><div class="a" style="left:745px;top:151.3px;width:36px;height:1px;background:#bcc1cd"></div><svg class="a" style="left:0;top:0" width="800" height="600" viewBox="0 0 800 600"><polygon points="709.30,193.70 741.75,209.33 749.76,244.43 727.31,272.59 691.29,272.59 668.84,244.43 676.85,209.33" fill="#faf8ff" stroke="#ebe6fb" stroke-width="0.5"/><polygon points="709.30,202.00 735.26,214.50 741.67,242.59 723.70,265.11 694.90,265.11 676.93,242.59 683.34,214.50" fill="#f5f1fe" stroke="#ebe6fb" stroke-width="0.5"/><polygon points="709.30,210.30 728.77,219.68 733.58,240.74 720.10,257.63 698.50,257.63 685.02,240.74 689.83,219.68" fill="#f8f5ff" stroke="#ebe6fb" stroke-width="0.5"/><polygon points="709.30,218.60 722.28,224.85 725.48,238.89 716.50,250.16 702.10,250.16 693.12,238.89 696.32,224.85" fill="#f2eefd" stroke="#ebe6fb" stroke-width="0.5"/><polygon points="709.30,226.90 715.79,230.03 717.39,237.05 712.90,242.68 705.70,242.68 701.21,237.05 702.81,230.03" fill="#efe9fd" stroke="#ebe6fb" stroke-width="0.5"/><line x1="709.3" y1="235.2" x2="709.30" y2="193.70" stroke="#ebe6fb" stroke-width="0.5"/><line x1="709.3" y1="235.2" x2="741.75" y2="209.33" stroke="#ebe6fb" stroke-width="0.5"/><line x1="709.3" y1="235.2" x2="749.76" y2="244.43" stroke="#ebe6fb" stroke-width="0.5"/><line x1="709.3" y1="235.2" x2="727.31" y2="272.59" stroke="#ebe6fb" stroke-width="0.5"/><line x1="709.3" y1="235.2" x2="691.29" y2="272.59" stroke="#ebe6fb" stroke-width="0.5"/><line x1="709.3" y1="235.2" x2="668.84" y2="244.43" stroke="#ebe6fb" stroke-width="0.5"/><line x1="709.3" y1="235.2" x2="676.85" y2="209.33" stroke="#ebe6fb" stroke-width="0.5"/><polygon points="709.30,201.45 724.94,222.73 750.25,244.55 714.51,246.01 702.18,249.98 697.60,237.87 696.01,224.60" fill="#9961fd"/><polygon points="709.30,225.20 715.55,230.21 725.68,238.94 723.84,265.38 705.83,242.41 672.45,243.61 698.35,226.47" fill="#2fcf7d"/><polygon points="709.30,216.20 734.16,215.37 721.00,237.87 712.21,241.24 708.00,237.90 706.38,235.87 683.11,214.31" fill="#f9a825"/></svg><div class="t" style="left:709.30px;transform:translateX(-50%);top:208.500px;font-size:4.6px;color:#fff;font-weight:bold;">60</div><div class="t" style="left:709.30px;transform:translateX(-50%);top:217.500px;font-size:4.6px;color:#fff;font-weight:bold;">40</div><div class="t" style="left:709.30px;transform:translateX(-50%);top:225.500px;font-size:4.6px;color:#fff;font-weight:bold;">20</div><div class="t" style="left:709.30px;transform:translateX(-50%);top:234.500px;font-size:4.6px;color:#fff;font-weight:bold;">0</div><div class="t" style="left:709.50px;transform:translateX(-50%);top:185.500px;font-size:4.7px;color:#9aa1b1;-webkit-text-stroke:0.08px #9aa1b1;">Sun</div><div class="t" style="left:750.80px;transform:translateX(-50%);top:205.500px;font-size:4.7px;color:#9aa1b1;-webkit-text-stroke:0.08px #9aa1b1;">Mon</div><div class="t" style="left:760.00px;transform:translateX(-50%);top:241.500px;font-size:4.7px;color:#9aa1b1;-webkit-text-stroke:0.08px #9aa1b1;">Tues</div><div class="t" style="left:736.70px;transform:translateX(-50%);top:273.500px;font-size:4.7px;color:#9aa1b1;-webkit-text-stroke:0.08px #9aa1b1;">Wed</div><div class="t" style="left:683.00px;transform:translateX(-50%);top:273.500px;font-size:4.7px;color:#9aa1b1;-webkit-text-stroke:0.08px #9aa1b1;">Thu</div><div class="t" style="left:662.00px;transform:translateX(-50%);top:241.500px;font-size:4.7px;color:#9aa1b1;-webkit-text-stroke:0.08px #9aa1b1;">Fri</div><div class="t" style="left:669.00px;transform:translateX(-50%);top:205.500px;font-size:4.7px;color:#9aa1b1;-webkit-text-stroke:0.08px #9aa1b1;">Sat</div><div class="a" style="left:672.10px;top:291.40px;width:3.4px;height:3.4px;border-radius:50%;background:#9961fd"></div><div class="t" style="left:678.00px;top:290.500px;font-size:5.607px;color:#1d2a4d;-webkit-text-stroke:0.17px #1d2a4d;">Desktop</div><div class="a" style="left:702.50px;top:291.40px;width:3.4px;height:3.4px;border-radius:50%;background:#2fcf7d"></div><div class="t" style="left:708.60px;top:290.500px;font-size:5.038px;color:#1d2a4d;-webkit-text-stroke:0.17px #1d2a4d;">Mobile</div><div class="a" style="left:728.50px;top:291.40px;width:3.4px;height:3.4px;border-radius:50%;background:#f9a825"></div><div class="t" style="left:734.40px;top:290.500px;font-size:5.237px;color:#1d2a4d;-webkit-text-stroke:0.17px #1d2a4d;">Others</div><div class="a" style="left:133px;top:315px;width:157px;height:197px;background:#fff;border:1px solid #eff0f5;border-radius:2.5px"></div><div class="a" style="left:133px;top:341px;width:157px;height:1px;background:#eff0f5"></div><div class="a" style="left:300px;top:315px;width:156.5px;height:196px;background:#fff;border:1px solid #eff0f5;border-radius:2.5px"></div><div class="a" style="left:300px;top:341px;width:156.5px;height:1px;background:#eff0f5"></div><div class="a" style="left:466px;top:315px;width:157px;height:197px;background:#fff;border:1px solid #eff0f5;border-radius:2.5px"></div><div class="a" style="left:466px;top:341px;width:157px;height:1px;background:#eff0f5"></div><div class="a" style="left:633px;top:315px;width:157px;height:197px;background:#fff;border:1px solid #eff0f5;border-radius:2.5px"></div><div class="a" style="left:633px;top:341px;width:157px;height:1px;background:#eff0f5"></div><div class="t" style="left:142.10px;top:324.500px;font-size:7.251px;color:#1d2a4d;-webkit-text-stroke:0.17px #1d2a4d;">Top Selling Products</div><div class="t" style="left:308.80px;top:324.500px;font-size:7.59px;color:#1d2a4d;-webkit-text-stroke:0.17px #1d2a4d;letter-spacing:0.026px;">Recent Activity</div><div class="t" style="left:475.60px;top:325.500px;font-size:6.914px;color:#1d2a4d;-webkit-text-stroke:0.17px #1d2a4d;">Top Customers</div><div class="t" style="left:642.25px;top:325.500px;font-size:6.849px;color:#1d2a4d;-webkit-text-stroke:0.17px #1d2a4d;">Top User Channels</div><div class="t" style="left:257.75px;top:326.500px;font-size:4.952px;color:#6a7387;-webkit-text-stroke:0.08px #6a7387;">View All</div><svg class="a" style="left:277.25px;top:327px" width="3.4" height="2.4" viewBox="0 0 3.4 2.4"><path d="M0 1.2 H2.4" stroke="#6a7387" stroke-width=".5"/><path d="M1.7 0.2 L3.4 1.2 L1.7 2.2Z" fill="#6a7387"/></svg><div class="a" style="left:257.75px;top:330.3px;width:23px;height:1px;background:#bcc1cd"></div><div class="t" style="left:424.40px;top:326.500px;font-size:4.696px;color:#6a7387;-webkit-text-stroke:0.08px #6a7387;">View All</div><svg class="a" style="left:443.90px;top:327px" width="3.4" height="2.4" viewBox="0 0 3.4 2.4"><path d="M0 1.2 H2.4" stroke="#6a7387" stroke-width=".5"/><path d="M1.7 0.2 L3.4 1.2 L1.7 2.2Z" fill="#6a7387"/></svg><div class="a" style="left:424.4px;top:330.3px;width:23px;height:1px;background:#bcc1cd"></div><div class="t" style="left:590.90px;top:326.500px;font-size:4.951px;color:#6a7387;-webkit-text-stroke:0.08px #6a7387;">View All</div><svg class="a" style="left:610.40px;top:327px" width="3.4" height="2.4" viewBox="0 0 3.4 2.4"><path d="M0 1.2 H2.4" stroke="#6a7387" stroke-width=".5"/><path d="M1.7 0.2 L3.4 1.2 L1.7 2.2Z" fill="#6a7387"/></svg><div class="a" style="left:590.9px;top:330.3px;width:23px;height:1px;background:#bcc1cd"></div><div class="a" style="left:769.2px;top:323.2px;width:11.5px;height:11.4px;border-radius:2px;background:#f6f5fb"></div><div class="a" style="left:774.4px;top:326.4px;width:1.1px;height:5px;background:repeating-linear-gradient(#5b6478 0 1.1px,transparent 1.1px 1.95px)"></div><div class="a" style="left:142.1px;top:348.25px;width:19.5px;height:19.4px;border-radius:2px;background:#f7f6fc;border:0.5px solid #f0eef8"></div><svg class="a" style="left:143.85px;top:349.95px" width="16" height="16" viewBox="0 0 16 16"><rect x="0.2" y="0.2" width="15.8" height="15.4" rx="1.2" fill="#cfe5ea"/><ellipse cx="8" cy="8.6" rx="6" ry="5" fill="#3f6e66"/><circle cx="4.2" cy="6.4" r="2" fill="#f3eee3"/><circle cx="11.8" cy="7" r="2.1" fill="#efd6b2"/><circle cx="7.8" cy="3.6" r="2" fill="#e6eee9"/><circle cx="12.8" cy="10.4" r="1.6" fill="#f1ede4"/><circle cx="3.4" cy="10" r="1.4" fill="#e9c9a0"/><circle cx="8.4" cy="9.6" r="2.7" fill="#efe2c6" stroke="#c9b38a" stroke-width=".3"/><rect x="3.6" y="12.6" width="8.8" height="1.6" rx=".5" fill="#2b4844"/></svg><div class="t" style="left:169.00px;top:351.500px;font-size:5.673px;color:#1d2a4d;font-weight:bold;">TaoTronics Wall Clock</div><div class="t" style="left:169.00px;top:360.500px;font-size:5.2px;color:#7b8397;-webkit-text-stroke:0.08px #7b8397;">$699</div><div class="a" style="left:184.40px;top:359.85px;width:0.5px;height:7.4px;background:#e6e8ee"></div><div class="a" style="left:188.65px;top:362.35px;width:2.2px;height:2.2px;border-radius:50%;background:#2fcf7d"></div><div class="t" style="left:192.50px;top:361.500px;font-size:5.72px;color:#2fcf7d;-webkit-text-stroke:0.08px #2fcf7d;letter-spacing:0.029px;">In Stock</div><div class="t" style="right:519.00px;top:350.500px;font-size:6.2px;color:#1d2a4d;font-weight:bold;">1000</div><div class="t" style="right:519.00px;top:360.500px;font-size:5.525px;color:#8b93a7;-webkit-text-stroke:0.08px #8b93a7;">Sales</div><div class="a" style="left:133px;top:374.50px;width:157px;height:1px;background:#eff0f5"></div><div class="a" style="left:142.1px;top:381.98px;width:19.5px;height:19.4px;border-radius:2px;background:#f7f6fc;border:0.5px solid #f0eef8"></div><svg class="a" style="left:143.85px;top:383.68px" width="16" height="16" viewBox="0 0 16 16"><rect x="0" y="0" width="16" height="16" fill="#fff"/><path d="M7.6 0.8 C9.6 0.8 10.6 2.4 10.4 4.4 L12.2 5.6 C12.8 6 13 6.6 13 7.4 L13.2 14.6 H11.6 L11.4 9 L11.2 15.4 H4.2 L4 9 L3.8 14.6 H2.2 L2.4 7.4 C2.4 6.6 2.6 6 3.2 5.6 L5 4.4 C4.8 2.4 5.6 0.8 7.6 0.8Z" fill="#a3232b"/><ellipse cx="7.7" cy="4" rx="1.6" ry="1.3" fill="#1a0a0c"/><path d="M7.7 5.4 V15" stroke="#7e1820" stroke-width=".4"/></svg><div class="t" style="left:169.00px;top:384.500px;font-size:5.742px;color:#1d2a4d;font-weight:bold;">Club Fleece Hoodie</div><div class="t" style="left:169.00px;top:394.500px;font-size:5.505px;color:#7b8397;-webkit-text-stroke:0.08px #7b8397;">$55</div><div class="a" style="left:181.40px;top:393.58px;width:0.5px;height:7.4px;background:#e6e8ee"></div><div class="a" style="left:185.20px;top:396.08px;width:2.2px;height:2.2px;border-radius:50%;background:#2fcf7d"></div><div class="t" style="left:189.90px;top:394.500px;font-size:5.474px;color:#2fcf7d;-webkit-text-stroke:0.08px #2fcf7d;">In Stock</div><div class="t" style="right:519.00px;top:384.500px;font-size:6.227px;color:#1d2a4d;font-weight:bold;">3,100</div><div class="t" style="right:519.00px;top:394.500px;font-size:5.525px;color:#8b93a7;-webkit-text-stroke:0.08px #8b93a7;">Sales</div><div class="a" style="left:133px;top:408.50px;width:157px;height:1px;background:#eff0f5"></div><div class="a" style="left:142.1px;top:415.71px;width:19.5px;height:19.4px;border-radius:2px;background:#f7f6fc;border:0.5px solid #f0eef8"></div><svg class="a" style="left:143.85px;top:417.41px" width="16" height="16" viewBox="0 0 16 16"><rect x="0" y="0" width="16" height="16" fill="#fdfcff"/><circle cx="4.6" cy="4.4" r="2.5" fill="#45b2e6"/><path d="M5.2 5 L7.4 5.6 L7.6 13.4 C7.6 14 6.2 14 6.2 13.4 L6 6.6Z" fill="#3ea6dc"/><circle cx="11.4" cy="5.6" r="2.5" fill="#45b2e6"/><path d="M10.6 6.2 L8.8 6.6 L8.6 14.6 C8.6 15.2 10 15.2 10 14.6 L10.2 7.6Z" fill="#3ea6dc"/><circle cx="3.8" cy="3.8" r=".6" fill="#1d4f66"/><circle cx="12.2" cy="5.2" r=".6" fill="#1d4f66"/></svg><div class="t" style="left:169.00px;top:418.500px;font-size:5.671px;color:#1d2a4d;font-weight:bold;">SmartGizmo Pro</div><div class="t" style="left:169.00px;top:429.500px;font-size:4.896px;color:#7b8397;-webkit-text-stroke:0.08px #7b8397;">$199</div><div class="a" style="left:183.80px;top:427.31px;width:0.5px;height:7.4px;background:#e6e8ee"></div><div class="a" style="left:187.50px;top:429.81px;width:2.2px;height:2.2px;border-radius:50%;background:#2fcf7d"></div><div class="t" style="left:192.30px;top:428.500px;font-size:5.5px;color:#2fcf7d;-webkit-text-stroke:0.08px #2fcf7d;">In Stock</div><div class="t" style="right:519.00px;top:417.500px;font-size:6.2px;color:#1d2a4d;font-weight:bold;">1,250</div><div class="t" style="right:519.00px;top:428.500px;font-size:5.525px;color:#8b93a7;-webkit-text-stroke:0.08px #8b93a7;">Sales</div><div class="a" style="left:133px;top:442.50px;width:157px;height:1px;background:#eff0f5"></div><div class="a" style="left:142.1px;top:449.44px;width:19.5px;height:19.4px;border-radius:2px;background:#f7f6fc;border:0.5px solid #f0eef8"></div><svg class="a" style="left:143.85px;top:451.14px" width="16" height="16" viewBox="0 0 16 16"><rect x="0" y="0" width="16" height="16" fill="#fdfcff"/><path d="M10.4 4.2 C13.6 4.2 14 12.6 10.6 12.8" fill="none" stroke="#d9b97a" stroke-width="1.1"/><path d="M4.6 3.8 H10.6 L10.9 12.8 H4.4Z" fill="#f3f4f2"/><path d="M3.2 4.4 L4.8 3.6 L4.8 5Z" fill="#d9b97a"/><rect x="5.4" y="2.6" width="4.6" height="1.4" rx=".6" fill="#ddbf85"/><circle cx="8.1" cy="7" r=".45" fill="#d4a850"/><circle cx="8.1" cy="9.2" r=".45" fill="#d4a850"/><rect x="4.2" y="12.4" width="7" height="1.4" rx=".4" fill="#4a3a2c"/></svg><div class="t" style="left:169.00px;top:452.500px;font-size:5.673px;color:#1d2a4d;font-weight:bold;">TaoTronics Wall Clock</div><div class="t" style="left:169.00px;top:462.500px;font-size:5.2px;color:#7b8397;-webkit-text-stroke:0.08px #7b8397;">$699</div><div class="a" style="left:183.80px;top:461.04px;width:0.5px;height:7.4px;background:#e6e8ee"></div><div class="a" style="left:187.50px;top:463.54px;width:2.2px;height:2.2px;border-radius:50%;background:#f5554a"></div><div class="t" style="left:192.70px;top:462.500px;font-size:5.425px;color:#f5554a;-webkit-text-stroke:0.08px #f5554a;">Out Of Stock</div><div class="t" style="right:519.00px;top:451.500px;font-size:6.2px;color:#1d2a4d;font-weight:bold;">1000</div><div class="t" style="right:519.00px;top:461.500px;font-size:5.525px;color:#8b93a7;-webkit-text-stroke:0.08px #8b93a7;">Sales</div><div class="a" style="left:133px;top:476.50px;width:157px;height:1px;background:#eff0f5"></div><div class="a" style="left:142.1px;top:483.17px;width:19.5px;height:19.4px;border-radius:2px;background:#f7f6fc;border:0.5px solid #f0eef8"></div><svg class="a" style="left:143.85px;top:484.87px" width="16" height="16" viewBox="0 0 16 16"><rect x="0.2" y="0.8" width="15.8" height="15.2" rx="1.4" fill="#16070d"/><rect x="0.2" y="0.8" width="15.8" height="15.2" rx="1.4" fill="none" stroke="#8a0e1c" stroke-width="1"/><path d="M5.6 6.2 C5.6 2.6 10.6 2.6 10.6 6.2" fill="none" stroke="#b3263c" stroke-width=".9"/><path d="M3.4 7 C4.4 6 11.8 6 12.8 7 L13.6 13.6 H2.6Z" fill="#d8402c"/><path d="M8.2 6.4 C10.6 6.4 12 6.6 12.8 7 L13.6 13.6 H9.2Z" fill="#e8a828"/><circle cx="5.2" cy="11" r="1.8" fill="#2a4a9a"/><circle cx="11.2" cy="12" r="1.3" fill="#3aa048"/><circle cx="6" cy="8.4" r="1.2" fill="#c03a9a"/><rect x="0.2" y="13.6" width="15.8" height="2.4" rx="1" fill="#0e6a8a"/></svg><div class="t" style="left:169.00px;top:486.500px;font-size:5.909px;color:#1d2a4d;font-weight:bold;">UltraMaze School Bag</div><div class="t" style="left:169.00px;top:495.500px;font-size:5.505px;color:#7b8397;-webkit-text-stroke:0.08px #7b8397;">$89</div><div class="a" style="left:181.40px;top:494.77px;width:0.5px;height:7.4px;background:#e6e8ee"></div><div class="a" style="left:185.20px;top:497.27px;width:2.2px;height:2.2px;border-radius:50%;background:#2fcf7d"></div><div class="t" style="left:189.90px;top:495.500px;font-size:5.474px;color:#2fcf7d;-webkit-text-stroke:0.08px #2fcf7d;">In Stock</div><div class="t" style="right:519.00px;top:486.500px;font-size:5.812px;color:#1d2a4d;font-weight:bold;">2,150</div><div class="t" style="right:519.00px;top:495.500px;font-size:5.525px;color:#8b93a7;-webkit-text-stroke:0.08px #8b93a7;">Sales</div><div class="a" style="left:353.8px;top:357px;width:0.6px;height:148.6px;background:#e9ebf2"></div><div class="t" style="right:457.00px;top:353.500px;font-size:5.321px;color:#1d2a4d;font-weight:bold;">24,Nov</div><div class="t" style="right:457.00px;top:361.500px;font-size:5.353px;color:#8b93a7;-webkit-text-stroke:0.08px #8b93a7;">08:45 AM</div><div class="a" style="left:350.70px;top:352.90px;width:6.8px;height:6.8px;border-radius:50%;background:#9961fd;opacity:.15"></div><div class="a" style="left:352.20px;top:354.40px;width:3.8px;height:3.8px;border-radius:50%;background:#9961fd"></div><div class="t" style="left:364.10px;top:352.500px;font-size:5.849px;color:#3b4560;-webkit-text-stroke:0.08px #3b4560;">John Doe placed an order</div><div class="t" style="left:364.10px;top:361.500px;font-size:5.8px;color:#3b4560;-webkit-text-stroke:0.08px #3b4560;">for <span style="color:#9961fd">5x Apple iPhone 14</span></div><div class="t" style="right:458.50px;top:379.500px;font-size:5.305px;color:#1d2a4d;font-weight:bold;">24,Nov</div><div class="t" style="right:458.50px;top:387.500px;font-size:5.235px;color:#8b93a7;-webkit-text-stroke:0.08px #8b93a7;">09:15 AM</div><div class="a" style="left:350.70px;top:378.80px;width:6.8px;height:6.8px;border-radius:50%;background:#f9a825;opacity:.15"></div><div class="a" style="left:352.20px;top:380.30px;width:3.8px;height:3.8px;border-radius:50%;background:#f9a825"></div><div class="t" style="left:364.10px;top:378.500px;font-size:5.729px;color:#3b4560;-webkit-text-stroke:0.08px #3b4560;">Payment of <b>$1,250.00</b></div><div class="t" style="left:364.10px;top:386.500px;font-size:5.669px;color:#3b4560;-webkit-text-stroke:0.08px #3b4560;">received from <b>Alice Smith</b></div><div class="t" style="left:364.10px;top:395.500px;font-size:5.783px;color:#3b4560;-webkit-text-stroke:0.08px #3b4560;">for <span style="color:#f9a825">Order #1020</span>.</div><div class="t" style="right:458.00px;top:413.500px;font-size:5.321px;color:#1d2a4d;font-weight:bold;">24,Nov</div><div class="t" style="right:458.00px;top:420.500px;font-size:5.209px;color:#8b93a7;-webkit-text-stroke:0.08px #8b93a7;">10:00 AM</div><div class="a" style="left:350.70px;top:412.30px;width:6.8px;height:6.8px;border-radius:50%;background:#1ab8f5;opacity:.15"></div><div class="a" style="left:352.20px;top:413.80px;width:3.8px;height:3.8px;border-radius:50%;background:#1ab8f5"></div><div class="t" style="left:364.10px;top:412.500px;font-size:5.602px;color:#3b4560;-webkit-text-stroke:0.08px #3b4560;"><b>David Brown</b> requested a</div><div class="t" style="left:364.10px;top:420.500px;font-size:5.895px;color:#3b4560;-webkit-text-stroke:0.08px #3b4560;">refund for <span style="color:#1ab8f5">1x Samsung</span></div><div class="t" style="left:364.10px;top:428.500px;font-size:5.656px;color:#3b4560;-webkit-text-stroke:0.08px #3b4560;"><span style="color:#1ab8f5">Galaxy S22</span>.</div><div class="t" style="right:458.50px;top:446.500px;font-size:5.305px;color:#1d2a4d;font-weight:bold;">24,Nov</div><div class="t" style="right:458.50px;top:454.500px;font-size:5.13px;color:#8b93a7;-webkit-text-stroke:0.08px #8b93a7;">10:45 AM</div><div class="a" style="left:350.70px;top:445.90px;width:6.8px;height:6.8px;border-radius:50%;background:#2fcf7d;opacity:.15"></div><div class="a" style="left:352.20px;top:447.40px;width:3.8px;height:3.8px;border-radius:50%;background:#2fcf7d"></div><div class="t" style="left:364.10px;top:445.500px;font-size:5.785px;color:#3b4560;-webkit-text-stroke:0.08px #3b4560;"><span style="color:#2fcf7d">Product ID: 5409</span> (Sony</div><div class="t" style="left:364.10px;top:454.500px;font-size:5.784px;color:#3b4560;-webkit-text-stroke:0.08px #3b4560;">WH-1000XM5) stock</div><div class="t" style="left:364.10px;top:461.500px;font-size:6.05px;color:#3b4560;-webkit-text-stroke:0.08px #3b4560;letter-spacing:0.009px;">dropped below threshold.</div><div class="t" style="right:459.00px;top:480.500px;font-size:5.321px;color:#1d2a4d;font-weight:bold;">24,Nov</div><div class="t" style="right:459.00px;top:489.500px;font-size:4.943px;color:#8b93a7;-webkit-text-stroke:0.08px #8b93a7;">11:30 AM</div><div class="a" style="left:350.70px;top:479.50px;width:6.8px;height:6.8px;border-radius:50%;background:#f97316;opacity:.15"></div><div class="a" style="left:352.20px;top:481.00px;width:3.8px;height:3.8px;border-radius:50%;background:#f97316"></div><div class="t" style="left:364.10px;top:479.500px;font-size:5.59px;color:#3b4560;-webkit-text-stroke:0.08px #3b4560;"><b>Emma Johnson</b> left a 5-</div><div class="t" style="left:364.10px;top:487.500px;font-size:5.857px;color:#3b4560;-webkit-text-stroke:0.08px #3b4560;">star review on <span style="color:#f97316">Product ID:</span></div><div class="t" style="left:364.10px;top:496.500px;font-size:5.307px;color:#3b4560;-webkit-text-stroke:0.08px #3b4560;"><span style="color:#f97316">7312</span> (Dell XPS 13).</div><div class="a" style="left:475.5px;top:349.50px;width:139px;height:27px;border:0.8px dotted #e3e6ee;border-radius:3.5px"></div><div class="a" style="left:480px;top:355.20px;width:16.5px;height:16.6px;border-radius:1.5px;background:#f1ebfe"></div><div class="t" style="left:488.25px;transform:translateX(-50%);top:360.500px;font-size:5.214px;color:#9961fd;font-weight:bold;">JS</div><div class="t" style="left:503.60px;top:356.500px;font-size:5.792px;color:#1d2a4d;font-weight:bold;">Jane Smith</div><div class="t" style="left:503.60px;top:365.500px;font-size:5.31px;color:#8b93a7;-webkit-text-stroke:0.08px #8b93a7;">janesmith215@gmail.com</div><div class="t" style="right:190.80px;top:356.500px;font-size:6.356px;color:#9961fd;font-weight:bold;">$23,755</div><div class="t" style="right:190.80px;top:365.500px;font-size:5.579px;color:#8b93a7;-webkit-text-stroke:0.08px #8b93a7;">Spent</div><div class="a" style="left:475.5px;top:381.10px;width:139px;height:27px;border:0.8px dotted #e3e6ee;border-radius:3.5px"></div><div class="a" style="left:480px;top:386.80px;width:16.5px;height:16.6px;border-radius:1.5px;background:#fde9f7"></div><div class="t" style="left:488.25px;transform:translateX(-50%);top:392.500px;font-size:5.72px;color:#ff49c9;font-weight:bold;letter-spacing:0.525px;">JD</div><div class="t" style="left:503.60px;top:388.500px;font-size:5.802px;color:#1d2a4d;font-weight:bold;">Jhon Doe</div><div class="t" style="left:503.60px;top:397.500px;font-size:5.326px;color:#8b93a7;-webkit-text-stroke:0.08px #8b93a7;">jhondoe431@gmail.com</div><div class="t" style="right:190.80px;top:387.500px;font-size:6.181px;color:#ff49c9;font-weight:bold;">$14,563</div><div class="t" style="right:190.80px;top:396.500px;font-size:5.579px;color:#8b93a7;-webkit-text-stroke:0.08px #8b93a7;">Spent</div><div class="a" style="left:475.5px;top:412.70px;width:139px;height:27px;border:0.8px dotted #e3e6ee;border-radius:3.5px"></div><div class="a" style="left:480px;top:418.40px;width:16.5px;height:16.6px;border-radius:1.5px;background:#fff4e3"></div><div class="t" style="left:488.25px;transform:translateX(-50%);top:425.500px;font-size:4.855px;color:#f9a825;font-weight:bold;">AK</div><div class="t" style="left:503.60px;top:419.500px;font-size:5.461px;color:#1d2a4d;font-weight:bold;">Alicia Keys</div><div class="t" style="left:503.60px;top:429.500px;font-size:5.507px;color:#8b93a7;-webkit-text-stroke:0.08px #8b93a7;">aliciakeys986@gmail.com</div><div class="t" style="right:190.80px;top:418.500px;font-size:5.977px;color:#f9a825;font-weight:bold;">$12,075</div><div class="t" style="right:190.80px;top:428.500px;font-size:5.579px;color:#8b93a7;-webkit-text-stroke:0.08px #8b93a7;">Spent</div><div class="a" style="left:475.5px;top:444.30px;width:139px;height:27px;border:0.8px dotted #e3e6ee;border-radius:3.5px"></div><div class="a" style="left:480px;top:450.00px;width:16.5px;height:16.6px;border-radius:1.5px;background:#e4f6fe"></div><div class="t" style="left:488.25px;transform:translateX(-50%);top:455.500px;font-size:5.393px;color:#1ab8f5;font-weight:bold;">LP</div><div class="t" style="left:503.60px;top:451.500px;font-size:5.754px;color:#1d2a4d;font-weight:bold;">Leo Phillip</div><div class="t" style="left:503.60px;top:460.500px;font-size:5.523px;color:#8b93a7;-webkit-text-stroke:0.08px #8b93a7;">leophillip77@gmail.com</div><div class="t" style="right:190.80px;top:450.500px;font-size:6.22px;color:#1ab8f5;font-weight:bold;">$10,485</div><div class="t" style="right:190.80px;top:460.500px;font-size:5.579px;color:#8b93a7;-webkit-text-stroke:0.08px #8b93a7;">Spent</div><div class="a" style="left:475.5px;top:475.90px;width:139px;height:27px;border:0.8px dotted #e3e6ee;border-radius:3.5px"></div><div class="a" style="left:480px;top:481.60px;width:16.5px;height:16.6px;border-radius:1.5px;background:#e5f8ee"></div><div class="t" style="left:488.25px;transform:translateX(-50%);top:488.500px;font-size:4.68px;color:#2fcf7d;font-weight:bold;letter-spacing:-0.208px;">BS</div><div class="t" style="left:503.60px;top:482.500px;font-size:5.835px;color:#1d2a4d;font-weight:bold;">Brenda Simpson</div><div class="t" style="left:503.60px;top:492.500px;font-size:5.491px;color:#8b93a7;-webkit-text-stroke:0.08px #8b93a7;">brendasimpson075@gmail.com</div><div class="t" style="right:190.80px;top:482.500px;font-size:6.314px;color:#2fcf7d;font-weight:bold;">$8,533</div><div class="t" style="right:190.80px;top:491.500px;font-size:5.579px;color:#8b93a7;-webkit-text-stroke:0.08px #8b93a7;">Spent</div><div class="a" style="left:642.2px;top:351.20px;width:16.6px;height:16.4px;border-radius:2px;background:#f8f7fc"></div><svg class="a" style="left:645.5px;top:354.60px" width="10" height="10" viewBox="0 0 10 10"><path d="M5 0.3 L6.1 1.6 L7.7 1 L8 2.7 L9.6 3.3 L8.9 4.9 L9.7 6.4 L8.1 7.1 L7.8 8.8 L6.2 8.4 L5 9.7 L3.8 8.4 L2.2 8.8 L1.9 7.1 L0.3 6.4 L1.1 4.9 L0.4 3.3 L2 2.7 L2.3 1 L3.9 1.6Z" fill="#23a03f"/><path d="M3.4 3.4 V5.4 C3.4 6.8 6.6 6.8 6.6 5.4 V3.4" fill="#e8f7ea"/><path d="M5 6.2 V8" stroke="#e8f7ea" stroke-width=".8"/></svg><div class="t" style="left:665.00px;top:353.500px;font-size:5.667px;color:#1d2a4d;font-weight:bold;">CloudComm</div><div class="t" style="left:665.00px;top:362.500px;font-size:5.525px;color:#8b93a7;-webkit-text-stroke:0.08px #8b93a7;">Digital Communication</div><div class="t" style="right:38.00px;top:354.500px;font-size:5.276px;color:#2fcf7d;-webkit-text-stroke:0.08px #2fcf7d;">2.08%</div><svg class="a" style="left:743.90px;top:354.90px" width="2.6" height="4.4" viewBox="0 0 2.6 4.4"><path d="M1.3 1 V4.4" stroke="#2fcf7d" stroke-width=".55"/><path d="M0 1.5 L1.3 0 L2.6 1.5Z" fill="#2fcf7d"/></svg><div class="t" style="right:19.10px;top:353.500px;font-size:6.251px;color:#1d2a4d;font-weight:bold;">3,765</div><div class="a" style="left:743px;top:365.30px;width:37.90px;height:2px;border-radius:1px;background:#f1ebfe"></div><div class="a" style="left:743px;top:365.30px;width:27.67px;height:2px;border-radius:1px;background:#9961fd"></div><div class="a" style="left:642.2px;top:378.00px;width:16.6px;height:16.4px;border-radius:2px;background:#f8f7fc"></div><svg class="a" style="left:645.5px;top:381.40px" width="10" height="10" viewBox="0 0 10 10"><defs><linearGradient id="bzA" x1="0" y1="1" x2="1" y2="0"><stop offset="0" stop-color="#c02fd0"/><stop offset="1" stop-color="#8a3ff0"/></linearGradient><linearGradient id="bzB" x1="0" y1="0" x2="1" y2="1"><stop offset="0" stop-color="#1fd0e0"/><stop offset="1" stop-color="#3a6af0"/></linearGradient></defs><path d="M2.6 1.2 H4.6 L8.6 8.6 H6.6Z" fill="url(#bzB)"/><path d="M7.2 1.2 H9 L3.2 8.8 H1.2Z" fill="url(#bzA)"/></svg><div class="t" style="left:665.00px;top:380.500px;font-size:5.769px;color:#1d2a4d;font-weight:bold;">BuzzWave</div><div class="t" style="left:665.00px;top:389.500px;font-size:5.345px;color:#8b93a7;-webkit-text-stroke:0.08px #8b93a7;">Social Media</div><div class="t" style="right:38.00px;top:381.500px;font-size:5.246px;color:#f5554a;-webkit-text-stroke:0.08px #f5554a;">6.45%</div><svg class="a" style="left:743.50px;top:381.70px" width="2.6" height="4.4" viewBox="0 0 2.6 4.4"><path d="M1.3 0 V3.4" stroke="#f5554a" stroke-width=".55"/><path d="M0 2.9 L1.3 4.4 L2.6 2.9Z" fill="#f5554a"/></svg><div class="t" style="right:19.10px;top:380.500px;font-size:6.38px;color:#1d2a4d;font-weight:bold;">2,855</div><div class="a" style="left:742.2px;top:392.10px;width:38.70px;height:2px;border-radius:1px;background:#fde9f7"></div><div class="a" style="left:742.2px;top:392.10px;width:17.03px;height:2px;border-radius:1px;background:#ff49c9"></div><div class="a" style="left:642.2px;top:404.80px;width:16.6px;height:16.4px;border-radius:2px;background:#f8f7fc"></div><svg class="a" style="left:645.5px;top:408.20px" width="10" height="10" viewBox="0 0 10 10"><path d="M5 5 C3.2 3.6 3 1.6 5 0.8 C7 1.6 6.8 3.6 5 5Z" fill="#3ac7a0"/><path d="M5 5 C6.4 3.2 8.4 3 9.2 5 C8.4 7 6.4 6.8 5 5Z" fill="#7bd04a"/><path d="M5 5 C6.8 6.4 7 8.4 5 9.2 C3 8.4 3.2 6.4 5 5Z" fill="#1fa8c8"/><path d="M5 5 C3.6 6.8 1.6 7 0.8 5 C1.6 3 3.6 3.2 5 5Z" fill="#25b8d8"/></svg><div class="t" style="left:665.00px;top:406.500px;font-size:5.97px;color:#1d2a4d;font-weight:bold;">NexusNet</div><div class="t" style="left:665.00px;top:415.500px;font-size:5.72px;color:#8b93a7;-webkit-text-stroke:0.08px #8b93a7;letter-spacing:0.005px;">Networking</div><div class="t" style="right:38.00px;top:408.500px;font-size:4.981px;color:#2fcf7d;-webkit-text-stroke:0.08px #2fcf7d;">1.95%</div><svg class="a" style="left:744.30px;top:408.50px" width="2.6" height="4.4" viewBox="0 0 2.6 4.4"><path d="M1.3 1 V4.4" stroke="#2fcf7d" stroke-width=".55"/><path d="M0 1.5 L1.3 0 L2.6 1.5Z" fill="#2fcf7d"/></svg><div class="t" style="right:19.10px;top:407.500px;font-size:6.38px;color:#1d2a4d;font-weight:bold;">2,384</div><div class="a" style="left:743px;top:418.90px;width:37.90px;height:2px;border-radius:1px;background:#fff4e3"></div><div class="a" style="left:743px;top:418.90px;width:30.70px;height:2px;border-radius:1px;background:#f9a825"></div><div class="a" style="left:642.2px;top:431.60px;width:16.6px;height:16.4px;border-radius:2px;background:#f8f7fc"></div><svg class="a" style="left:645.5px;top:435.00px" width="10" height="10" viewBox="0 0 10 10"><path d="M4.6 0.8 L0.8 4.8 L4.6 8.8 L5.8 7.7 L3 4.8 L5.8 1.9Z" fill="#1ea6f0"/><path d="M5.4 2.6 L7.6 4.8 L5.4 7 L4.4 6 L5.6 4.8 L4.4 3.6Z" fill="#e83aa8"/><circle cx="4.6" cy="4.8" r=".9" fill="#e83aa8"/></svg><div class="t" style="left:665.00px;top:433.500px;font-size:5.85px;color:#1d2a4d;font-weight:bold;">FlashConnect</div><div class="t" style="left:665.00px;top:442.500px;font-size:5.534px;color:#8b93a7;-webkit-text-stroke:0.08px #8b93a7;">Direct Marketing</div><div class="t" style="right:38.00px;top:436.500px;font-size:4.576px;color:#f5554a;-webkit-text-stroke:0.08px #f5554a;">5.01%</div><svg class="a" style="left:744.90px;top:435.30px" width="2.6" height="4.4" viewBox="0 0 2.6 4.4"><path d="M1.3 0 V3.4" stroke="#f5554a" stroke-width=".55"/><path d="M0 2.9 L1.3 4.4 L2.6 2.9Z" fill="#f5554a"/></svg><div class="t" style="right:19.10px;top:435.500px;font-size:5.754px;color:#1d2a4d;font-weight:bold;">1,755</div><div class="a" style="left:744.3px;top:445.70px;width:36.60px;height:2px;border-radius:1px;background:#e4f6fe"></div><div class="a" style="left:744.3px;top:445.70px;width:21.59px;height:2px;border-radius:1px;background:#1ab8f5"></div><div class="a" style="left:642.2px;top:458.40px;width:16.6px;height:16.4px;border-radius:2px;background:#f8f7fc"></div><svg class="a" style="left:645.5px;top:461.80px" width="10" height="10" viewBox="0 0 10 10"><path d="M5 1.2 C7.6 2 9 4.2 8.6 6.6 C8.3 8.4 6.8 9.4 5 9.4 C3.2 9.4 1.6 8.4 1.4 6.6 C1.2 4.8 2.2 3.4 3.4 2.8 C3.4 3.8 3.8 4.4 4.3 4.6 C4 3.2 4.3 2 5 1.2Z" fill="#f04a24"/><path d="M3.4 6.6 C3.4 5.6 4.2 5.2 5 5.2 C5.8 5.2 6.6 5.6 6.6 6.6 V9 H5.8 V6.8 H4.2 V9 H3.4Z" fill="#fff"/></svg><div class="t" style="left:665.00px;top:460.500px;font-size:5.778px;color:#1d2a4d;font-weight:bold;">EchoLink</div><div class="t" style="left:665.00px;top:469.500px;font-size:5.353px;color:#8b93a7;-webkit-text-stroke:0.08px #8b93a7;">Feedback &amp; Surveys</div><div class="t" style="right:38.00px;top:462.500px;font-size:4.838px;color:#2fcf7d;-webkit-text-stroke:0.08px #2fcf7d;">3.75%</div><svg class="a" style="left:744.20px;top:462.10px" width="2.6" height="4.4" viewBox="0 0 2.6 4.4"><path d="M1.3 1 V4.4" stroke="#2fcf7d" stroke-width=".55"/><path d="M0 1.5 L1.3 0 L2.6 1.5Z" fill="#2fcf7d"/></svg><div class="t" style="right:19.10px;top:461.500px;font-size:5.969px;color:#1d2a4d;font-weight:bold;">1,525</div><div class="a" style="left:744.1px;top:472.50px;width:36.80px;height:2px;border-radius:1px;background:#e5f8ee"></div><div class="a" style="left:744.1px;top:472.50px;width:18.77px;height:2px;border-radius:1px;background:#2fcf7d"></div><div class="a" style="left:642.2px;top:485.20px;width:16.6px;height:16.4px;border-radius:2px;background:#f8f7fc"></div><svg class="a" style="left:645.5px;top:488.60px" width="10" height="10" viewBox="0 0 10 10"><defs><linearGradient id="vbA" x1="0" y1="0" x2="1" y2="1"><stop offset="0" stop-color="#f5a020"/><stop offset=".35" stop-color="#c040e0"/><stop offset=".7" stop-color="#7a50f0"/><stop offset="1" stop-color="#f050c0"/></linearGradient></defs><path d="M0.8 8.6 C1.6 4.6 3.2 1.6 5 1.6 C6.8 1.6 8.4 4.6 9.2 8.6 C7.6 7.2 6.3 6.6 5 6.6 C3.7 6.6 2.4 7.2 0.8 8.6Z" fill="url(#vbA)"/><path d="M0.8 8.6 C1.4 6.8 2.2 5.6 3.2 5 C3 6 3 6.6 3.2 7 C2.4 7.4 1.6 7.9 0.8 8.6Z" fill="#2f7af0"/></svg><div class="t" style="left:665.00px;top:486.500px;font-size:6.0px;color:#1d2a4d;font-weight:bold;">VibeStream</div><div class="t" style="left:665.00px;top:496.500px;font-size:5.653px;color:#8b93a7;-webkit-text-stroke:0.08px #8b93a7;">Content Distribution</div><div class="t" style="right:38.00px;top:488.500px;font-size:5.214px;color:#2fcf7d;-webkit-text-stroke:0.08px #2fcf7d;">0.95%</div><svg class="a" style="left:743.80px;top:488.90px" width="2.6" height="4.4" viewBox="0 0 2.6 4.4"><path d="M1.3 1 V4.4" stroke="#2fcf7d" stroke-width=".55"/><path d="M0 1.5 L1.3 0 L2.6 1.5Z" fill="#2fcf7d"/></svg><div class="t" style="right:19.10px;top:487.500px;font-size:6.164px;color:#1d2a4d;font-weight:bold;">1,345</div><div class="a" style="left:742.6px;top:499.30px;width:38.30px;height:2px;border-radius:1px;background:#feeceb"></div><div class="a" style="left:742.6px;top:499.30px;width:14.17px;height:2px;border-radius:1px;background:#f5554a"></div><div class="a" style="left:133px;top:522px;width:434.5px;height:100px;background:#fff;border:1px solid #eff0f5;border-radius:2.5px"></div><div class="a" style="left:133px;top:554px;width:434.5px;height:1px;background:#eff0f5"></div><div class="a" style="left:133px;top:575px;width:434.5px;height:1px;background:#eff0f5"></div><div class="t" style="left:142.00px;top:534.500px;font-size:7.153px;color:#1d2a4d;-webkit-text-stroke:0.17px #1d2a4d;">Recent Invoices</div><div class="a" style="left:428px;top:530px;width:42.4px;height:15.6px;border:0.6px solid #eceef4;border-radius:2.5px"></div><div class="t" style="left:437.40px;top:535.500px;font-size:5.622px;color:#2b3550;-webkit-text-stroke:0.17px #2b3550;">Filters</div><svg class="a" style="left:456.5px;top:536.8px" width="4" height="3" viewBox="0 0 4 3"><path d="M0.5 0.6 L2 2.1 L3.5 0.6" fill="none" stroke="#5b6478" stroke-width=".6"/></svg><div class="a" style="left:474px;top:530px;width:84.4px;height:15.6px;border:0.6px solid #eceef4;border-radius:2.5px"></div><div class="t" style="left:479.40px;top:535.500px;font-size:5.803px;color:#9aa1b1;-webkit-text-stroke:0.08px #9aa1b1;">Search Here</div><div class="a" style="left:142px;top:562px;width:6.2px;height:6.2px;border:0.6px solid #e3e5ec;border-radius:1px;background:#fff"></div><div class="t" style="left:169.00px;top:562.500px;font-size:5.13px;color:#2b3550;-webkit-text-stroke:0.17px #2b3550;letter-spacing:-0.314px;">ID</div><div class="t" style="left:217.75px;top:561.500px;font-size:6.08px;color:#2b3550;-webkit-text-stroke:0.17px #2b3550;">Customer</div><div class="t" style="left:333.20px;top:562.500px;font-size:5.929px;color:#2b3550;-webkit-text-stroke:0.17px #2b3550;">Ordered Date</div><div class="t" style="left:395.00px;top:561.500px;font-size:6.0px;color:#2b3550;-webkit-text-stroke:0.17px #2b3550;">Items</div><div class="t" style="left:443.40px;top:562.500px;font-size:6.27px;color:#2b3550;-webkit-text-stroke:0.17px #2b3550;letter-spacing:0.069px;">Price</div><div class="t" style="left:485.60px;top:562.500px;font-size:6.27px;color:#2b3550;-webkit-text-stroke:0.17px #2b3550;letter-spacing:0.004px;">Status</div><div class="t" style="left:531.40px;top:561.500px;font-size:6.189px;color:#2b3550;-webkit-text-stroke:0.17px #2b3550;">Actions</div><div class="a" style="left:142px;top:587.8px;width:6.3px;height:6.3px;border-radius:1px;background:#9961fd"></div><svg class="a" style="left:142.8px;top:588.6px" width="4.7" height="4.7" viewBox="0 0 5 5"><path d="M1 2.6 L2.1 3.6 L4 1.4" fill="none" stroke="#fff" stroke-width=".8"/></svg><div class="t" style="left:169.00px;top:588.500px;font-size:5.665px;color:#3b4560;-webkit-text-stroke:0.08px #3b4560;">#SPK231</div><div class="a" style="left:217.75px;top:585px;width:11.6px;height:11.6px;border-radius:50%;background:#9961fd;color:#fff;font-size:3.8px;font-weight:bold;line-height:11.6px;text-align:center">JS</div><div class="t" style="left:233.20px;top:584.500px;font-size:5.786px;color:#1d2a4d;font-weight:bold;">Jane Smith</div><div class="t" style="left:233.20px;top:593.500px;font-size:5.28px;color:#8b93a7;-webkit-text-stroke:0.08px #8b93a7;letter-spacing:0.062px;">janesmith213@gmail.com</div><div class="t" style="left:333.20px;top:583.500px;font-size:6.192px;color:#3b4560;-webkit-text-stroke:0.08px #3b4560;">27,Aug 2024</div><div class="t" style="left:333.20px;top:591.500px;font-size:5.06px;color:#9aa1b1;-webkit-text-stroke:0.08px #9aa1b1;letter-spacing:0.017px;">12:45PM</div><div class="a" style="left:395.70px;top:585.7px;width:10px;height:10px;border-radius:50%;background:radial-gradient(ellipse 60% 40% at 50% 85%,#1ec8c0 0,#2050c0 35%,#d06a30 55%,#0b0b16 80%);box-shadow:0 0 0 0.6px #fff"></div><div class="a" style="left:402.55px;top:585.7px;width:10px;height:10px;border-radius:50%;background:linear-gradient(#cfeaf8 0,#6cb8e0 45%,#141414 62%,#b01818 85%,#141414 100%);box-shadow:0 0 0 0.6px #fff"></div><div class="a" style="left:409.40px;top:585.7px;width:10px;height:10px;border-radius:50%;background:radial-gradient(ellipse 60% 50% at 55% 75%,#c8d020 0,#2aa048 30%,#b02020 50%,#07070a 75%);box-shadow:0 0 0 0.6px #fff"></div><div class="t" style="left:443.40px;top:588.500px;font-size:5.7px;color:#3b4560;-webkit-text-stroke:0.08px #3b4560;">$1,240</div><div class="a" style="left:485.4px;top:588px;width:14.6px;height:7px;border-radius:1px;background:#e5f8ee"></div><div class="t" style="left:488.60px;top:589.500px;font-size:4.29px;color:#2fcf7d;font-weight:bold;letter-spacing:0.030px;">Paid</div><div class="a" style="left:531.4px;top:585px;width:11.4px;height:11.4px;border-radius:1.5px;background:#f8f7fc;border:0.5px solid #ecebf3"></div><div class="a" style="left:536.6px;top:588.2px;width:1px;height:5px;background:repeating-linear-gradient(#5b6478 0 1px,transparent 1px 2px)"></div><div class="a" style="left:577px;top:522px;width:213px;height:100px;background:#fff;border:1px solid #eff0f5;border-radius:2.5px"></div><div class="a" style="left:577px;top:552px;width:213px;height:1px;background:#eff0f5"></div><div class="a" style="left:577px;top:575px;width:213px;height:1px;background:#eff0f5"></div><div class="t" style="left:586.25px;top:533.500px;font-size:7.226px;color:#1d2a4d;-webkit-text-stroke:0.17px #1d2a4d;">Recent Transactions</div><div class="a" style="left:765.5px;top:530px;width:15.3px;height:14.7px;border-radius:2px;background:#f6f5fb;border:0.5px solid #eeedf5"></div><div class="a" style="left:772.6px;top:534.8px;width:1.1px;height:5px;background:repeating-linear-gradient(#5b6478 0 1.1px,transparent 1.1px 1.95px)"></div><div class="t" style="left:586.25px;top:561.500px;font-size:5.721px;color:#2b3550;-webkit-text-stroke:0.17px #2b3550;">Order</div><div class="t" style="left:682.20px;top:561.500px;font-size:5.661px;color:#2b3550;-webkit-text-stroke:0.17px #2b3550;">Price</div><div class="t" style="right:19.20px;top:560.500px;font-size:6.16px;color:#2b3550;-webkit-text-stroke:0.17px #2b3550;letter-spacing:0.116px;">Products</div><div class="t" style="left:586.25px;top:583.500px;font-size:5.724px;color:#1d2a4d;font-weight:bold;">Order Id - <span style="font-weight:normal;color:#3b4560">#SPK1234</span></div><div class="t" style="left:586.25px;top:591.500px;font-size:5.24px;color:#8b93a7;-webkit-text-stroke:0.08px #8b93a7;">4 Items</div><div class="a" style="left:607.8px;top:589.8px;width:0.5px;height:8px;background:#e6e8ee"></div><div class="a" style="left:611.75px;top:590.75px;width:20px;height:6.8px;border-radius:1px;background:#e5f8ee"></div><svg class="a" style="left:614.6px;top:592.6px" width="3" height="3" viewBox="0 0 3 3"><path d="M0.3 1.6 L1.2 2.4 L2.7 0.6" fill="none" stroke="#2fcf7d" stroke-width=".6"/></svg><div class="t" style="left:619.20px;top:592.500px;font-size:4.356px;color:#2fcf7d;font-weight:bold;">Paid</div><div class="t" style="left:682.20px;top:582.500px;font-size:6.152px;color:#1d2a4d;font-weight:bold;">$150.00</div><div class="t" style="left:682.20px;top:591.500px;font-size:5.39px;color:#9aa1b1;-webkit-text-stroke:0.08px #9aa1b1;letter-spacing:0.189px;">2024-08-27</div><div class="a" style="left:756.70px;top:584.7px;width:10px;height:10px;border-radius:50%;background:radial-gradient(ellipse 22% 40% at 48% 45%,#dfe9dc 0,#8fb89e 45%,transparent 60%),linear-gradient(135deg,#28b07a,#0f6a48);box-shadow:0 0 0 0.6px #fff"></div><div class="a" style="left:763.20px;top:584.7px;width:10px;height:10px;border-radius:50%;background:radial-gradient(ellipse 20% 25% at 40% 55%,#e0a050 0,#6a5030 50%,transparent 70%),linear-gradient(135deg,#2a3550,#07070c);box-shadow:0 0 0 0.6px #fff"></div><div class="a" style="left:770px;top:584.7px;width:10px;height:10px;border-radius:50%;background:#9961fd;box-shadow:0 0 0 0.6px #fff"></div><div class="t" style="left:775.00px;transform:translateX(-50%);top:587.500px;font-size:4.4px;color:#fff;font-weight:bold;">+2</div>
</body></html>
